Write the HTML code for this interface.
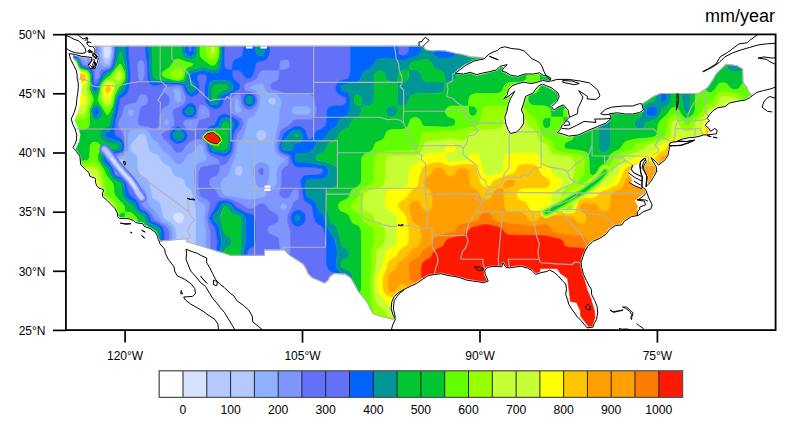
<!DOCTYPE html><html><head><meta charset="utf-8"><style>html,body{margin:0;padding:0;background:#fff;}svg{display:block;}text{font-family:"Liberation Sans",sans-serif;fill:#000;}</style></head><body>
<svg width="810" height="424" viewBox="0 0 810 424">
<defs><clipPath id="us"><path d="M284.5 250l4 4.5 7.5 4.5 7 5 3 4.5 2.5 5.5 3.5 3.5 7 3 5.5 2.5 3.5 -2.5 1.5 -3.5 4.5 -3.5 11 0.5 5.5 3.5 4 6.5 3.5 7 5 6 4.5 6 2.5 5.5 3 5 6.5 2.5 6.5 1.5 6 1.5 2 0.5 -2 -4 0 -0.5 -2 -6 0.5 -7.5 2.5 -5.5 0 -0.5 0.5 0 4.5 -4 0.5 -0.5 5 -2.5 6 -3 6.5 -3 6 -4 5 -4 0.5 0 6.5 -1 0.5 0 6.5 -1 8.5 2 4.5 0.5 6 1.5 0.5 0 5.5 2 7 1.5 4.5 0.5 0.5 0 5.5 1 3 -1 -0.5 -2 -2 -3.5 0 -0.5 -0.5 -3.5 0 -0.5 1.5 -2 0 -0.5 2.5 -2 0.5 0 5 -0.5 4.5 0 0.5 0 3 0 1 -3 0 -0.5 0.5 0 0 -0.5 0.5 0 0.5 0 0.5 0.5 2.5 4.5 3 0 7 -1 4.5 -0.5 0.5 0 6 2 0.5 0 4.5 2.5 0.5 0 3 3.5 4 -1.5 0 -3 17 0 3.5 5 7 5 2 15.5 1 7.5 6 1 4 8.5 0 5 5.5 7 2.5 3.5 3.5 -0.5 1 -2.5 0 -0.5 1 -2 1 -3.5 -0.5 -6.5 -3.5 -12 -3.5 -8.5 -4 -13.5 -1 -2 -2 -7.5 -0.5 -4.5 0 -0.5 1.5 -6 2 -5 3 -5.5 0.5 0 5 -5.5 0.5 0 6.5 -3 6 -4 3.5 -4.5 0 -0.5 0.5 0 5.5 -4 0.5 0 0.5 0 5.5 -1 2.5 -3 7 -5 0.5 0 6.5 -1 -1 -1.5 1 -3.5 0 -3.5 -3 -5 2 -2 5.5 -4.5 4 -1 -1.5 -3.5 -2 -1 -1.5 0 -6.5 -3 -5.5 -3.5 3.5 -1.5 -4 -8 2.5 -3.5 2 -4.5 6.5 -3 0 -1 0 -0.5 0.5 0 0 -0.5 4.5 -3 0.5 0 0.5 0 0.5 0 0 0.5 1.5 3.5 0 0.5 0 0.5 -0.5 0 -2.5 5 1.5 5.5 2.5 4 0 0.5 -0.5 6 1.5 -1.5 3.5 -5.5 2.5 -5 -0.5 -3.5 -3.5 -6 -1.5 -3.5 -0.5 -0.5 0 -0.5 0.5 0 0 -0.5 0.5 0 0 -0.5 0.5 0 0 0.5 0.5 0 5.5 5 2 2 5 -4.5 3 -4.5 1 -5.5 0 -2 0 -0.5 0 -0.5 0.5 0 0 -0.5 0.5 0 0 -0.5 2 -2.5 5.5 -1 0 -0.5 0 -0.5 0 -0.5 0.5 0 0 -0.5 5 -1.5 7 -1.5 0.5 0 5 -0.5 5 -1 3.5 -1 0.5 0 4.5 -0.5 0 -1 1 -1 -1 -2.5 -3.5 -2.5 0 -0.5 -0.5 0 0 -0.5 0 -0.5 0.5 0 1.5 -3 0 -0.5 0.5 0 1 -1 -1.5 -1.5 0 -0.5 0 -0.5 0 -0.5 2.5 -3.5 3.5 -4 0.5 0 0 -0.5 4.5 -3 0.5 0 7 -1 4.5 -3.5 0.5 0 8 -2 7 -1 4.5 -2.5 2.5 -1.5 -3 -3 -2 -5.5 -3.5 -4 -0.5 -13.5 -6 -3.5 -7 -1 -3.5 0 -9.5 9 -3.5 6 -5.5 8 -3.5 2.5 -5 3.5 -38.5 0 -7 3 -6 4 -4.5 3 1.5 6.5 0 0.5 -0.5 0.5 -3.5 2.5 -0.5 0 -7 1.5 -0.5 0 -7 0 -8.5 -1 -6 0.5 1.5 3.5 0 0.5 0 0.5 -0.5 0 0 0.5 -5.5 4.5 -9 4 -7 2.5 -12 5.5 -9.5 1.5 -0.5 0 -5 -2 -6.5 -2 -0.5 0 0 -0.5 -0.5 -0.5 0.5 0 0 -0.5 3.5 -4 0.5 -2.5 0 -0.5 0 -0.5 0.5 0 2.5 -1.5 1 -3 0.5 0 3 -3 -1 -6.5 -4 -4.5 -4.5 2 -4 3 0 0.5 -0.5 0 -0.5 0 0 -0.5 -0.5 0 -2.5 -4 0 -0.5 0 -0.5 0 -0.5 5.5 -4.5 2 -4.5 -1 -3 -5.5 -4 -9 -4 -3.5 1.5 -3 3.5 -2 3 0 0.5 -0.5 0 -7 3.5 -1.5 6 -2.5 6.5 2.5 4.5 0 0.5 0 8 0 0.5 -0.5 0.5 -2.5 4.5 -0.5 0 -4 4.5 -0.5 0 -6 1.5 -0.5 0 -0.5 0 -0.5 -0.5 -2 -3 -0.5 -0.5 -2 -5.5 0 -0.5 -1.5 -7 0 -0.5 2.5 -6 1 -7 2.5 -6 0 -0.5 1 -1.5 -1 1 -5.5 3 -0.5 0 -0.5 0 0 -0.5 -0.5 0 0 -0.5 0 -0.5 0 -0.5 3.5 -4 1 -4.5 0.5 0 0 -0.5 3.5 -4 0.5 0 0 -0.5 6 -2 6 -1.5 0.5 0 8 1.5 7 -2 3.5 -1 0.5 0 6 1 0.5 -2 -3 -1.5 -2.5 0 -0.5 0 -0.5 0 -3.5 -3 -6 1 -0.5 0 -8 0 -7 2.5 -0.5 0 -7 -1 -0.5 0 0 -0.5 -4.5 -2.5 -4 -1.5 -0.5 0 0 -0.5 -0.5 0 0 -0.5 0 -0.5 0.5 0 1.5 -3 0.5 0 0 -0.5 -2.5 0.5 -3 3 0 0.5 -0.5 0 -7.5 2 -5.5 1 -7.5 2 -0.5 0 0 -0.5 -5.5 -2 -7 1.5 -8.5 -0.5 -0.5 0 0 -0.5 -0.5 0 0 -0.5 0 -0.5 0 -0.5 0.5 0 0 -0.5 4.5 -3 6 -5 8.5 -4 0.5 0 8.5 -2 -1.5 -0.5 -10.5 -0.5 -8.5 -2.5 -7 -1 -9.5 -2.5 -7 -0.5 -4.5 0.5 -8.5 -1 -2.5 -4 -4 0 -57.5 0 -118 0 -83 0 -66.5 0 2 2.5 0 0.5 0 4 3.5 4.5 0 0.5 0 0.5 -1 4.5 0 0.5 -2.5 4 -0.5 0.5 -4.5 2 -0.5 0 -0.5 0 0 -0.5 -2.5 -3 0 -0.5 -0.5 0 0 -0.5 0.5 0 0 -0.5 2.5 -4 0.5 -2.5 -3.5 -0.5 -6 -0.5 -6 -2 -2 0 1 2.5 3 6 2.5 5 0 0.5 0 0.5 1 4 0 0.5 0 3.5 1 4 0.5 0.5 0 0.5 0 4.5 0 0.5 -1 6 -0.5 4.5 -0.5 7 -0.5 0.5 0 0.5 -2 7 0 0.5 -2.5 5.5 1 3.5 2.5 4.5 0 0.5 1.5 6 0 0.5 0.5 0 0 0.5 -0.5 6 -0.5 0.5 0 0.5 0 0.5 -1.5 3.5 -2 3 1.5 1.5 0 0.5 3.5 4.5 0 0.5 0.5 5 0.5 3.5 4 4 0.5 0 3.5 3.5 0 0.5 1 3 4.5 1.5 0.5 0.5 0.5 1.5 0 0.5 0 2.5 1 3 2 2 2 0.5 0.5 0 2.5 1.5 0.5 0.5 0 0.5 0 0.5 -1 2.5 0 3 4 3.5 0 0.5 4.5 4 3 3.5 0.5 0 2.5 5 0 0.5 0.5 3 1 1 5 0 4.5 1 4 1 0.5 0.5 2.5 2 3 0.5 3.5 0.5 0.5 0 0 0.5 0.5 0 1 2 1 1 4.5 1.5 3.5 2.5 3 2.5 1.5 3.5 0 0.5 0.5 0 0.5 2.5 0.5 1.5 0.5 0 0 0.5 12 -1 15 -1 -1 2.5 44 14 34 0 0 -5.5z"/></clipPath><clipPath id="fr"><rect x="65.9" y="34.4" width="709.8" height="295.75"/></clipPath></defs>
<g clip-path="url(#fr)">
<g fill-rule="evenodd" stroke-width="0.6"><path fill="#d6e2ff" stroke="#d6e2ff" d="M103.5 46l0.5 9 1.5 3.5 2 0 2 -2 0.5 -2 0.5 -8.5zM175.5 213l-1.5 1 -1 2 0.5 2 0.5 2 2 2 2.5 1.5 2 0 1.5 -1 1.5 -1.5 0.5 -2 0 -3 -0.5 -1.5 -1.5 -1 -1.5 -1 -3 0z"/><path fill="#b5c9ff" stroke="#b5c9ff" d="M101.5 46l0 8.5 1.5 5 1.5 3.5 1.5 0.5 1.5 0 2 -2 2 -5 0.5 -10.5 -1.5 0 0 6.5 -1 4 -1 1.5 -2 1 -2 -2 -0.5 -2 -0.5 -9zM268 99.5l0 3 2.5 2.5 1.5 0 2 -0.5 2 -2 0 -3 -2 -1.5 -2 -0.5 -2 0.5 -1.5 1zM256.5 133l-0.5 1.5 0.5 2 1 2 1.5 1.5 2 0.5 2 -0.5 1.5 -1 1.5 -1.5 0.5 -2 0 -1.5 -1 -2 -2 -1.5 -1.5 -0.5 -2 0 -2 1zM118 161l0.5 7 1 1.5 1.5 1.5 2 -0.5 1 -1 1 -1.5 0 -5 -0.5 -2.5 -2 -1.5 -1.5 -0.5 -2 1zM235.5 168l-0.5 3.5 0.5 3 1 1 1.5 0.5 3 -1 1.5 -1.5 0.5 -2 -0.5 -2.5 -0.5 -2 -1 -1 -2 -0.5 -2 0.5zM138 135.5l-2 3 -5 4 -0.5 2.5 -0.5 3 1 4 4 2.5 2 3 0.5 12 1 3 2 3 6 3 1.5 1.5 2.5 8.5 1.5 8.5 2 2.5 4.5 2.5 1.5 2 4.5 14.5 1 1.5 5.5 3 3 3.5 1.5 4 0.5 9 11.5 -0.5 -1 2.5 9.5 3 0 -36 -0.5 -3 -2.5 -6.5 -1 -7.5 -1.5 -2 -4.5 -3.5 -2 -6 -1.5 -1.5 -8 -3 -1 -2 -2.5 -5.5 -2 -2 -4.5 -2.5 -2 -1.5 -4 -6.5 -1.5 -1.5 -5 -1.5 -2 -1.5 -1 -3 -3 -11.5 -1 -2 -1.5 -0.5 -2 -0.5 -2 0.5zM180.5 212.5l1.5 1 1.5 1 0.5 1.5 0 3 -0.5 2 -1 1.5 -3 1 -2 -0.5 -2.5 -2 -1.5 -2 -0.5 -3 1 -2 1.5 -1 2 -0.5z"/><path fill="#8eb2ff" stroke="#8eb2ff" d="M82 57.5l2 3.5 1 1 1 0.5 0.5 -0.5 1 -4zM99.5 46l0.5 10 2 8.5 2 2 2.5 0.5 2 -0.5 2 -2 2 -6.5 0.5 -4.5 0 -7.5 -1 0 -0.5 8.5 -1 5 -2 3.5 -2 1 -2 -1 -2 -5 -1 -4.5 0 -7.5zM173.5 90l0 2 2 8.5 0.5 1 1.5 1 2 -0.5 1.5 -1.5 0.5 -1.5 0 -3 -1.5 -6 -1.5 -1.5 -2 0 -2 0.5zM128.5 111l0 3 1 1.5 1.5 0.5 2 -1 1 -1 0 -2 -1 -2.5 -1 -0.5 -1.5 0zM164 123.5l1.5 2 1.5 0 1 -0.5 1 -2.5 -1 -3 -1 -0.5 -1.5 0.5 -1 1.5zM128.5 132l-1 3.5 0 13.5 -1 3.5 -3 2.5 -6.5 1.5 -1.5 1 -1 2 0 2.5 2.5 10 1 1 2 1 7.5 1.5 5.5 2 3 2.5 3.5 6 5 3.5 1.5 3 1 7.5 2 5.5 3 3.5 5 4.5 3 5.5 1.5 2 3 2 4.5 2 1.5 1.5 1.5 4 0.5 9.5 3.5 -0.5 -0.5 -9 -1.5 -4 -3 -3.5 -6.5 -4 -1 -2 -3.5 -13 -1.5 -2 -4.5 -2.5 -2 -2 -1.5 -9 -2.5 -8.5 -1.5 -1.5 -5.5 -3 -2 -2.5 -1.5 -3.5 -0.5 -12 -1 -2 -4 -3 -1.5 -1.5 -0.5 -5 1.5 -3.5 4.5 -4 3 -4 2.5 -1 3 0.5 1.5 2.5 3 11.5 1 3 2 1.5 5 1.5 1.5 1.5 4 6.5 2 1.5 4.5 2.5 2 2 2.5 5.5 1 2 8 3 1.5 1.5 2 6 5.5 4.5 4.5 18 0 36 10 3 0 -16 -1.5 -12.5 1 -12.5 -1.5 -2.5 -4.5 -2.5 -2.5 -3.5 -3 -14 -0.5 -4 0.5 -9.5 1 -4.5 2.5 -2.5 7.5 -2.5 1.5 -1.5 0 -2 -2 -5 -1.5 -6.5 -2 -1.5 -1.5 0 -1.5 0.5 -4.5 6.5 -6.5 4 -1.5 2 -1.5 3.5 -1.5 2 -2 1 -3 0 -2 -1 -1.5 -2 -4 -5.5 -6.5 -4.5 -4 -7 -2 -1.5 -4.5 -3.5 -3.5 -6 -2 -2 -5 -1.5 -9.5 0 -2.5 0.5zM123.5 159.5l1 1 0.5 1.5 -0.5 7 -1.5 1.5 -2 0.5 -1 -0.5 -1 -2 -1 -7.5 1 -1.5 1 -0.5 1.5 -0.5zM234.5 102.5l0 5.5 1 3 2 2 1.5 0 2 0 0.5 -1 0 -2 -2 -4.5 -1.5 -6 -1 -0.5 -1.5 0.5zM292.5 108l-1 2 0 2 1.5 1.5 2 1 4.5 0.5 7.5 -0.5 2.5 -0.5 1.5 -2 0 -2 -0.5 -2 -1.5 -1 -2 -1 -10 0 -3 1zM203.5 113l0.5 -1 0 -1 -1 -0.5 -1 0.5 0 1 0 0.5zM191 125.5l1 -1 0 -0.5 -0.5 -0.5 -1.5 -0.5 -1 1.5 1 0.5zM260 83l-9.5 3.5 -1 1 1 1 5.5 2 2.5 2.5 1 3 0.5 3 -1 6.5 -4.5 9.5 -2 1.5 -4 1.5 -1 1 -1.5 9 -3 8.5 -1 2 -4 4 -1 2 -1 8 -2 7 -3.5 8.5 -2 6.5 -1.5 2 -5 2.5 -1 2 -0.5 2 1.5 9.5 1 1.5 1 1 24.5 5 3 0 12 -2.5 2 -1.5 1.5 -2.5 0 -5 -0.5 -0.5 -4.5 0 -3 -1 -2 -1 -1 -2 -2 -7.5 -0.5 -4 0.5 -4.5 1 -3 3 -2 4 -0.5 3 0.5 2.5 2 1.5 3 0.5 3.5 -0.5 4 -1.5 6.5 -0.5 5.5 0.5 0.5 4 0 3 -1 2 -3 0.5 -4 0 -10.5 1 -3.5 2 -2 3.5 -2 1.5 -1.5 0 -1 -1 -1 -4 -2 -2.5 -2 -2 -2.5 -0.5 -4 0 -5 1.5 -11 2.5 -9.5 0.5 -10.5 2 -9.5 -0.5 -3.5 -1 -2 -2 -2 -3 -1 -5.5 -1 -2.5 -1 -1.5 -2 -1.5 -4.5 -1.5 -2zM274 98l2 1.5 0 2 -0.5 2 -1.5 1 -2 0.5 -2.5 -1 -1.5 -2.5 0.5 -2.5 3 -1.5zM241.5 167l1 2 0.5 1.5 -1 3.5 -1.5 1.5 -1.5 0.5 -2.5 -0.5 -1 -1.5 -0.5 -1.5 0 -3 0.5 -1.5 1 -1 1.5 -1.5 2 0.5zM263.5 130.5l2 1.5 1 2 0 1.5 -0.5 2 -1.5 1.5 -1.5 1 -2 0.5 -2 -0.5 -1.5 -1.5 -1 -2 -0.5 -2 0.5 -1.5 1.5 -2 2 -1 2 0zM280.5 206.5l1.5 3 2.5 1 2 -1.5 1 -2.5 -0.5 -1.5 -2.5 -1.5 -3 0.5 -1 1.5z"/><path fill="#7f96ff" stroke="#7f96ff" d="M87.5 58l-1 4 -0.5 0.5 -1 -0.5 -3 -4.5 -4 -1 2 2.5 2 4.5 1 1 2 1 2 0.5 3 -5 0.5 -2.5zM96.5 46l0 7.5 3 4.5 -1 5.5 -1.5 3 -2 2 -0.5 2.5 0 7 0.5 2 1 0.5 1 -0.5 1.5 -2 1.5 -5.5 0.5 -2 2.5 -1 5.5 -1 1.5 -1 1.5 -1.5 1 -2.5 1 -6.5 0.5 -7.5 0.5 -3.5 -1.5 0 0 9 -2.5 9.5 -2 2 -4 0.5 -2 -1.5 -1.5 -2.5 -1.5 -8 0 -9zM280.5 62l-1 3.5 0 4 0.5 0.5 6.5 -0.5 2 -1 1 -2 0.5 -2 0 -1.5 -1 -2 -1.5 -1.5 -2 -0.5 -2 0.5 -2 0.5zM138 63.5l-0.5 5 0 8.5 1.5 3 2.5 1 2 -1 1 -3 -0.5 -13.5 -0.5 -2 -2 -1.5 -1 0 -1.5 1zM199.5 105.5l-1.5 3.5 -0.5 7.5 -1 2 -10 1 -2 1 -1 1 -0.5 2 1.5 2.5 2.5 3 3 2 2.5 0 3 -1 2 -3 1.5 -6.5 1.5 -0.5 4.5 -1 2 -0.5 1.5 -2 1 -1.5 0.5 -2 -1 -3 -4 -4.5 -2 -1 -2 0zM204 112l-0.5 1 -0.5 0 -1 -0.5 0 -1.5 1 -0.5 1 0.5zM192 124.5l-1 1 -1 -0.5 -1 -0.5 0.5 -1 1.5 -0.5zM260 71.5l-1 1.5 -2 5 -1.5 2 -2 1.5 -8 2 -1 1 -0.5 2 0 3 1 1 1 0.5 7.5 1.5 2 1.5 1 2 0.5 3 0 3.5 -1 3 -2 2 -1.5 1 -3 1 -3 -0.5 -1.5 -1.5 -2 -2 -1 -2 -1 -7.5 -1 -1.5 -1 -0.5 -2 0 -2.5 1 -2.5 2 -1.5 2.5 -1 3 0 5 0.5 2.5 0.5 2 1.5 2 2.5 1.5 5.5 2.5 2 1 1 3.5 -0.5 3.5 -1 3 -4 4 -1 1.5 -2 8 -1.5 9.5 -4.5 9 -2.5 3 -6.5 1 0 4.5 -1 3 -2 3 -5 2 -1.5 1.5 -1 2 0 3 1.5 2.5 5 3.5 3 6 1.5 1.5 8.5 1.5 4 1 8.5 4 5.5 4 3 1 4 -0.5 4 -3.5 1.5 -1 3 -0.5 1.5 0 2 1.5 4 5.5 5.5 2.5 2 1 1.5 3 0.5 2 -0.5 2 -2.5 2 -6.5 2.5 -2 3 0 3 2 2.5 6.5 2.5 2 1.5 1 3.5 0.5 8.5 5 0 4 4.5 1.5 1 0.5 -4.5 0 -19 -0.5 -2.5 -2.5 -7.5 0 -5 1 -3 3.5 -6.5 2 -5.5 4 -2.5 0.5 -1.5 0.5 -2 0 -2.5 -1 -3.5 -1 -0.5 -2 -0.5 -2.5 1.5 -2.5 5.5 -1.5 1.5 -3 0.5 -3 -0.5 -2 -1.5 -0.5 -0.5 0 -3 1.5 -7.5 0.5 -14.5 1.5 -2.5 3.5 -2 1.5 -1.5 0.5 -4 0 -2 -1 -2 -2 -1 -4.5 -1.5 -2.5 -2 -1 -2 -0.5 -3 0.5 -5.5 2 -8.5 0.5 -2 2 -2.5 6 -3 3 -4 2.5 -1.5 4 -0.5 11 0 4 -1 2 -2 1 -2.5 0.5 -3 -0.5 -3.5 -2 -9.5 -1 -2 -2 -1.5 -4.5 -1 -20 0 -8.5 -3 -5 -0.5 -1.5 -1 -1.5 -2.5 1 -3 6 -2.5 1.5 -2 0.5 -4 0.5 -4.5 -0.5 -0.5 -15.5 0 -1.5 0.5zM296 106l10.5 0 2.5 1 2 2.5 0 1.5 -0.5 2 -2.5 1.5 -6.5 0.5 -6.5 -0.5 -3 -1.5 -0.5 -3 1.5 -2.5zM285.5 204l1.5 1.5 -0.5 3 -2 2 -2 -0.5 -2 -2.5 0 -2 2 -2zM238.5 100.5l1 5 2.5 5.5 -0.5 1 -1.5 1 -2 0 -1.5 -0.5 -1.5 -1.5 -0.5 -2 0 -4.5 0.5 -4 1.5 -1.5 0.5 0zM262.5 83.5l1.5 2 1.5 4.5 1.5 2 2.5 1 5.5 1 3 1 2 2 1 2 0.5 3.5 -2 9.5 -0.5 10.5 -2.5 9.5 -1.5 11 0 5 0.5 4 2 2.5 2.5 2 4 2 1 1 0 1 -1.5 1.5 -3.5 2 -2 3 -1 3.5 0 9.5 -0.5 4 -1.5 2.5 -3 1.5 -3.5 0 -1.5 -0.5 0.5 -5.5 1.5 -6.5 0.5 -4 -0.5 -3.5 -1.5 -3 -3 -2 -3.5 -0.5 -4 1 -2.5 2.5 -1 3 0 4.5 3 11.5 1.5 1.5 2 1 6.5 0.5 0.5 0.5 -0.5 6 -1 1.5 -1 1 -1.5 0.5 -13.5 2.5 -24.5 -4.5 -2 -1 -1 -2 -1.5 -8.5 0.5 -3 2 -2.5 4 -2 1.5 -2 2 -6.5 3.5 -8.5 2 -7 1 -8 1 -2 4 -4 1 -2 3 -8.5 1.5 -9 1 -1 4 -1.5 2 -1.5 4 -7.5 1 -3 0.5 -6.5 -0.5 -3 -1 -2 -2.5 -2.5 -5.5 -2 -1 -1 1 -1 8.5 -3 2 -0.5zM263 169l1 1.5 -0.5 2.5 -0.5 1.5 -2 0.5 -1 -0.5 -1 -1.5 0 -3 0.5 -1 1.5 -1zM172 86l-7 1.5 -2 1 -0.5 1 0 0.5 1 2 3.5 2.5 2 2.5 0.5 2.5 0 3 -0.5 1.5 -1 1 -4.5 2.5 -1.5 1.5 -3 9.5 -0.5 7.5 -1 1.5 -0.5 1 -3 0.5 -6.5 -2.5 -6 -1 -2 -0.5 -1 -1.5 -0.5 -3 2.5 -13 1.5 -1 4.5 -2 1.5 -3 0 -3.5 -1.5 -3 -3 -1 -3 0.5 -2 2.5 -1.5 4 -1 1.5 -2 0.5 -6.5 1.5 -3 2 -1 2.5 -1.5 6 -3.5 5.5 -0.5 4 1 3 3 4.5 3 8.5 0.5 4.5 0 4 -1 2 -1.5 1.5 -7 2 -3 2 -1.5 2 0 2 4 13 2.5 2 6.5 1.5 2.5 2 3.5 7 4.5 4.5 2 2.5 3 7 1.5 5 1 1.5 6.5 5 2.5 2.5 2.5 5 5.5 3.5 8 6 1 2 0.5 1.5 0 8.5 3.5 -0.5 -0.5 -8.5 -1 -4 -2 -2.5 -4.5 -2 -3 -2 -1.5 -2 -3 -5.5 -7 -7 -2.5 -4.5 -1.5 -9.5 -1.5 -3 -5 -3.5 -3.5 -6 -3 -2.5 -5.5 -2 -7.5 -1.5 -2.5 -1.5 -1.5 -3 -1.5 -8.5 0 -1.5 1 -2 1.5 -1 6.5 -1.5 3 -2.5 1 -3.5 0.5 -15 1.5 -3 2.5 -1.5 11.5 0 3 1 1.5 1 2 2.5 3 5 5.5 4 5 8 6.5 4.5 4 5.5 1.5 2 2 1 3 0 2 -1 1.5 -2 1.5 -3.5 1.5 -2 6.5 -4 4.5 -6.5 2.5 -1 1.5 1 1 1 1.5 6.5 2 5 0 2 -1.5 1.5 -7.5 2.5 -2.5 2.5 -1 4.5 0 11.5 2.5 14 1 3 2 2.5 4.5 2.5 1 1.5 0.5 3 -1 10.5 1.5 12.5 0 16 4.5 1.5 0 -17.5 -2.5 -9 -0.5 -4.5 0.5 -4.5 2 -7 0 -2.5 -0.5 -2 -1.5 -2 -6.5 -3 -1.5 -1.5 -1.5 -11.5 0 -11.5 0.5 -3 1.5 -1.5 12 -3 6.5 -0.5 0 -3.5 -1 -1.5 -1 -1 -5.5 -2.5 -2.5 -2 -2 -3 -1.5 -8 -1.5 -2 -2 -1.5 -1.5 -0.5 -3 0 -6.5 2 -4 3 -4.5 7 -2 1 -2 0.5 -2 -0.5 -2 -1 -4.5 -7 -5.5 -4.5 -2 -2 -0.5 -3 0.5 -1.5 4.5 -2 3 -2 2.5 -3 1.5 -2.5 0.5 -4 -1.5 -6.5 0.5 -3 1 -1 4 -1.5 3 -1.5 3.5 -3.5 1 -3 0 -1.5 -3.5 -9.5 -1 -2 -2 -0.5 -2 -0.5zM179.5 89.5l1 2.5 1 7 0 1 -1 1.5 -2 1 -1 0 -1.5 -1 -1 -2 -1.5 -9.5 1 -0.5 1.5 -1 1.5 0zM133.5 110l0.5 2 -0.5 3 -2.5 1 -1.5 -0.5 -1.5 -2.5 0.5 -2 0.5 -1 2 -1zM168 119.5l1 2 -0.5 3 -1.5 1 -1.5 0 -1.5 -2 0.5 -3 1.5 -1.5z"/><path fill="#6370f8" stroke="#6370f8" d="M188.5 46l0 4.5 1.5 1.5 1 -0.5 0.5 -1 0 -4.5zM397.5 46l0.5 6 2 2.5 2 1 2 0 1.5 -0.5 2 -1.5 1.5 -3 0 -4.5zM224.5 46l-0.5 17 0.5 3.5 1 2 1.5 1 4.5 0.5 0.5 -0.5 0.5 -6 1 -2.5 2 -1.5 5.5 -2.5 1.5 -2 0.5 -2.5 0.5 -6.5zM87 66l-2 -0.5 -2 -1 -3 -5.5 -2 -2.5 -5 -1 0.5 0.5 3 1 1.5 1.5 1.5 2.5 1.5 3.5 1 1.5 2 1 4.5 0.5zM91.5 69.5l2 12 1 3 0.5 1 1 -0.5 4 -5 3 -7.5 1.5 -1 5.5 -2 2.5 -3 1 -3 1.5 -7.5 0.5 -10 -1 0 -0.5 9 -2.5 10.5 -1 2 -2 1 -5.5 1 -2.5 1 -0.5 2 -1 4.5 -2 3 -1 0.5 -1 -0.5 -0.5 -3 0 -6 1 -3zM96.5 53.5l0 -7.5 -2.5 0 2 2.5 0 4.5zM258.5 171.5l1.5 3 2 0.5 1 -0.5 0.5 -1.5 0 -3.5 -0.5 -1 -2 -0.5 -2 1.5zM128.5 46l0 9 1.5 19 -0.5 7.5 -1.5 8.5 -1 3 -2.5 2.5 -3.5 2 -1.5 2 -2 13.5 -2.5 8.5 -0.5 10.5 0 2 1 1.5 5.5 3.5 1.5 2 1.5 3 0 4 -1 2 -1.5 1.5 -7.5 2 -4.5 2 -2.5 2 0 2 4.5 5.5 1 2 1 5.5 1.5 3 2 1 5.5 2 2.5 1.5 0.5 2 2 7.5 2 5.5 6.5 5 1.5 2 2.5 6.5 1.5 1.5 4 1.5 2 2 1.5 1.5 1.5 5 1.5 1.5 7 3 2.5 2 1.5 2 1 3.5 0 8.5 5 0 0 -8.5 -1 -3 -2.5 -2.5 -11.5 -7.5 -2.5 -5 -2.5 -2.5 -6.5 -5 -1 -1.5 -1.5 -5 -3 -7 -2 -2.5 -4.5 -4.5 -3.5 -7 -2.5 -2 -6.5 -1.5 -2.5 -2 -0.5 -2 -1.5 -5.5 -1.5 -5 -0.5 -2.5 1.5 -2 3 -2 7 -2 1.5 -1.5 1 -2 0 -4 -0.5 -4.5 -3 -8.5 -3.5 -5 -0.5 -3.5 1 -3.5 3 -5 1.5 -7 2 -2.5 3 -1.5 7 -1.5 1.5 -1.5 2 -5 1.5 -1.5 3 -0.5 3 1 1.5 3 0 3.5 -1.5 3 -4.5 2 -1.5 1 -2.5 13 0.5 3 1 1.5 2 0.5 6 1 6.5 2.5 3 -0.5 0.5 -1 1 -1.5 0.5 -7.5 3 -9.5 1.5 -1.5 4.5 -2.5 1 -1 0.5 -1.5 0 -3 -0.5 -2.5 -2 -2.5 -3.5 -2.5 -1 -2 0 -0.5 0.5 -1 2 -1 8 -1.5 5.5 -0.5 3 1 1 2 3.5 9.5 0 2.5 -2 3 -2.5 2.5 -3 1.5 -4 1.5 -1 1 -0.5 3 1.5 7.5 -0.5 4 -2 2.5 -3 3 -6 3 -1 1 0 1.5 1.5 3 6.5 5.5 4.5 7 2 1 2 0.5 2 -0.5 2 -1 4.5 -7 4 -3 6.5 -2 3 0 1.5 0.5 2 1.5 1.5 2 1.5 8 2 3 2.5 2 5.5 2.5 2 2 0.5 2.5 -0.5 1.5 -6.5 0.5 -11.5 2.5 -1.5 2 -1 3 0 11.5 1.5 11.5 1.5 1.5 6.5 3 1.5 2 0.5 2 0 2.5 -2 7 -0.5 4.5 0.5 4.5 2.5 9 0 17.5 6 2 1 -9.5 -1.5 -12 -1 -2 -3.5 -4 -1.5 -2.5 -0.5 -4 1 -3 1 -2 4 -4.5 1.5 -3.5 1.5 -1.5 2.5 -1.5 6 -0.5 4 1.5 2.5 2 3.5 4 10.5 5.5 5.5 1.5 2 2 0.5 5 0 20.5 -1 2 -1 2 -4 2 -1.5 1.5 -0.5 2 -0.5 3.5 17.5 0 0 -5.5 15 0 -0.5 -8.5 -1 -3.5 -2 -1.5 -6.5 -2.5 -1.5 -2 -0.5 -1.5 0.5 -3 1.5 -2 6.5 -2.5 2 -1.5 0.5 -1.5 0 -2 -1 -3 -2.5 -2 -5.5 -2.5 -4 -5.5 -2 -1.5 -1.5 0 -3 0.5 -1.5 1 -4 3.5 -4 0.5 -3 -1 -5.5 -4 -8.5 -4 -4 -1 -8.5 -1.5 -1.5 -1.5 -3 -6 -5 -3.5 -1.5 -2.5 0 -3 1 -2 1.5 -1.5 5 -2 2 -3 1 -3 0 -4.5 6.5 -1 2.5 -3 4.5 -9 1.5 -9.5 2 -8 1 -1.5 4 -4 1 -3 0.5 -3.5 -1 -3.5 -2 -1 -5.5 -2.5 -2.5 -1.5 -1.5 -2 -0.5 -2 -0.5 -2.5 0 -5 1 -3 1.5 -2.5 2.5 -2 2.5 -1 2 0 1 0.5 1 1.5 1 7.5 1 2 2 2 1.5 1.5 3 0.5 3 -1 1.5 -1 2 -2 1 -3 0 -3.5 -0.5 -3 -1 -2 -2 -1.5 -7.5 -1.5 -1 -0.5 -1 -2 0 -3 1.5 -2 1 -0.5 6 -1.5 2.5 -1.5 2 -2 2 -5 1 -1.5 2 -1 2.5 -0.5 13.5 0 1.5 0.5 -0.5 5.5 -1 3.5 -2 2 -4 1.5 -1.5 1.5 0 3 1.5 2 7 1.5 6.5 2 22.5 0.5 3 1 2 1.5 1 3 2.5 10 -0.5 5 -1 2.5 -2 2 -3 1 -13 0 -4 1 -4.5 5 -6.5 3.5 -1.5 2 -0.5 2 -2.5 11 0.5 6 1 2 1.5 1.5 7.5 3 1 2 0 2 -0.5 4 -1.5 1.5 -3.5 2 -1.5 2.5 -0.5 13.5 -1.5 8.5 0 2 0.5 1.5 2 1.5 3 0.5 3 -0.5 1.5 -1.5 2.5 -5.5 2.5 -1.5 2 0.5 1 0.5 1 3.5 0 2.5 -0.5 2 -0.5 1.5 -4 2.5 -2 5.5 -3.5 6.5 -1 3 0 5 2.5 7.5 0.5 2.5 0 19 -0.5 4.5 13 8.5 3 4.5 2.5 5.5 3.5 3.5 12.5 5.5 3.5 -2.5 1.5 -3.5 4.5 -3.5 0.5 0 -5.5 -3.5 -1.5 -2 -0.5 -1.5 -0.5 -25 -2.5 -12 -1 -2 -1.5 -2 -4.5 -3 -2 -1.5 -4 -16 -1 -1 -4.5 -2.5 -1.5 -1.5 -0.5 -3 -1 -6.5 -1.5 -7.5 0 -3 1 -1.5 2.5 -3 3.5 -1 12.5 -0.5 2 -1.5 0.5 -2 -1.5 -1.5 -2 -1 -10.5 -1 -11 0 -3.5 -1 -1.5 -1.5 -0.5 -1.5 -1 -5.5 -1 -2 -2 -1.5 -5 -1.5 -2 -1 -1.5 -2.5 -0.5 -4 1 -5 2 -5 1.5 -2 8 -5 4 -1.5 3.5 0 4 2 2 3.5 2 6.5 1.5 1 2 -0.5 2 -2 2 -4 1.5 -2 6.5 -3 2.5 -2.5 1 -4 0.5 -9.5 1 -4 2 -1 2 -1 10 -0.5 3 -1 1.5 -3 -0.5 -3 -1 -1.5 -5.5 -2.5 -2 -1.5 -1.5 -3 0 -3.5 1 -3 1.5 -2 3 -1 5.5 -1.5 1.5 -1 1 -2 1 -4.5 0 -25.5 -81 0 -0.5 7.5 -1 3.5 -2.5 2.5 -6.5 2 -2 1.5 -2 3 -2 9 -1.5 2.5 -3 1 -3 -0.5 -1.5 -1 -2 -4.5 -2 -1.5 -3.5 -1 -4 0 -0.5 0.5 0 3.5 1 3 1.5 2 4.5 4.5 0.5 2 0 3 -2 1.5 -12.5 8 -1.5 1.5 -1 4 -1.5 3 -2.5 1.5 -3 1 -3 -1 -2.5 -1.5 -3.5 -4 -1 -3 -0.5 -12 0.5 -4 1.5 -5.5 0 -2 -1 -1 -2 -1 -3 0 -1.5 0.5 -2 1.5 -0.5 2 2 7.5 0 4.5 -1 3 -1.5 1.5 -4 2 -2.5 -0.5 -3 -2 -1.5 -3 -1.5 -4.5 -1 -1 -1.5 -1 -4 -0.5 -6.5 0 -7.5 0.5 -7.5 1 -4 -0.5 -3 -2 -1 -3 -0.5 -17 -2 -9.5 0 -7.5zM143 61l1 2 0.5 2.5 0 10.5 -1 4 -2 1 -2.5 -1 -1 -2.5 -0.5 -12 0.5 -2.5 1 -2 1.5 -1 1 0zM193 103.5l1.5 1.5 1 3 0 5 -1 2.5 -2 1 -2.5 0.5 -4 -0.5 -2.5 -0.5 -1 -2 -0.5 -2 1.5 -4 4.5 -4 3 -1zM204 105l3 2.5 2 2.5 1 3 -0.5 3 -1.5 1.5 -2 1 -5.5 1.5 -1.5 0.5 -1.5 6.5 -2 3 -3 1 -1.5 0 -2 -0.5 -3 -2.5 -2 -2.5 -1 -2 0.5 -2 1 -1 2 -1 10 -1 1 -2 0.5 -7.5 1 -2.5 0.5 -1 1.5 -1zM226 114l2.5 1 9 5.5 1.5 2 0 2 -0.5 1.5 -3.5 4 -1.5 3 -2 16 -0.5 3 -1.5 1.5 -2 2 -1.5 0.5 -2 0 -10.5 -2 -2 -1 -1.5 -1 -1 -3 -1.5 -6 -2.5 -6.5 -0.5 -2.5 1 -3 1.5 -3 3 -1.5 3.5 -1.5 2 -1.5 2 -5 1.5 -2.5 3 -1.5zM286.5 59.5l2 0.5 1 2 0.5 2.5 -0.5 2.5 -1.5 1.5 -1.5 1 -6.5 0.5 -0.5 -0.5 0 -5 1 -3.5 1.5 -1 1.5 -0.5zM180.5 127l3 2 2.5 3 1 2.5 0 2 -1 3 -2.5 2.5 -3 1.5 -3 0 -3 -1 -2.5 -2 -2 -3 0 -3 1 -2.5 3.5 -3.5 3 -1.5zM250.5 94l2 0.5 1.5 1.5 1 3 0 2.5 -1 2.5 -1 1.5 -2.5 1 -2 0 -2.5 -1 -1.5 -2 -1 -3 0 -2.5 0.5 -2 1.5 -1.5 2 -0.5zM299.5 210l3 1.5 1.5 2 1 2.5 0 4 -1 2.5 -1.5 2 -3 1.5 -2.5 0 -3 -1 -2 -2 -1 -3 0 -3 1 -3 2 -2.5 3 -1.5z"/><path fill="#0063ff" stroke="#0063ff" d="M184.5 46l0.5 6.5 1.5 2.5 2.5 1.5 2 0.5 1.5 -1 1 -1 1 -1.5 0.5 -7.5 -3.5 0 0 4.5 -0.5 1 -1 0.5 -1.5 -1.5 0 -4.5zM115.5 46l-0.5 10 -1.5 7.5 -1 3 -2.5 3 -5.5 2 -1.5 1 -4 9 -2 2.5 -1 1 -1 0.5 -0.5 -1 -1 -3 -1 -9 -1 -3 -1.5 0 -1.5 -2 -4.5 -0.5 -2 -1 -1 -1.5 -1.5 -3.5 -1.5 -2.5 -1.5 -1.5 -3 -1 0 1.5 3 1 1.5 1.5 3 6.5 2 1 5.5 2 2 1.5 1 3 1 13.5 1 2 1 1.5 0.5 0.5 1 -0.5 1 -1 2.5 -6.5 4.5 -9.5 1.5 -1 6 -3 2.5 -3.5 3 -13 0 -7.5zM145.5 46l0 7.5 2 9.5 0.5 16 0.5 2.5 1.5 2.5 2 1 3 0.5 11 -1.5 10.5 0 5 0.5 1.5 1 1 1 1.5 4.5 1.5 3 3 2 2.5 0.5 4 -2 1.5 -1.5 1 -3 0 -4.5 -2 -7.5 0.5 -2 1 -1 2 -1 1.5 0 2.5 0 1.5 1 1 2 -2 10.5 0 9.5 0.5 3.5 1.5 3 3 3 2.5 1.5 3 1 3 -1 2.5 -1.5 1.5 -3 1 -4 1.5 -1.5 12.5 -8 2 -1.5 0 -3 -0.5 -2 -5 -4.5 -1.5 -3 -0.5 -3.5 0.5 -2.5 4.5 0 3 1 2 1.5 2 4 1 1 2.5 1 3 -0.5 2 -2 3.5 -12.5 2 -1.5 5.5 -1.5 3 -1.5 2 -3 1 -4.5 0 -5.5 -5 0 0 5.5 -1 2 -1.5 2 -3 0 -2 -1 -1 -2 -0.5 -6.5 -12 0 -0.5 6.5 -1 3.5 -2 1.5 -4.5 2 -2 1.5 -1 2.5 -0.5 6 -0.5 0.5 -3 -0.5 -2.5 -0.5 -1.5 -2.5 -0.5 -3.5 0.5 -17 -2.5 0 -0.5 11 -1 10.5 -1.5 3 -1.5 2 -3 0.5 -3 -0.5 -6.5 -2 -4.5 0 -6.5 2 -3 1.5 -1.5 2 0.5 2 1 2 3.5 3.5 1 4 0 2 -1 1.5 -2 1.5 -1.5 0 -2 -0.5 -1 -1 -2.5 -6.5 -1.5 -1 -3.5 -0.5 -24.5 -1 -4 -1 -1.5 -2 -0.5 -3 -0.5 -13 -0.5 -9.5 -0.5 -7.5zM216.5 80l10.5 0.5 3.5 2 2.5 3 0 3 -1 1.5 -2.5 2 -6.5 2.5 -2 1.5 -2.5 6.5 -1 1.5 -2 1 -3 0 -2.5 -2.5 -1.5 -3 0 -10 0.5 -5 1.5 -2.5 3 -1.5zM188 104l-4.5 4 -1 2 -0.5 3 1 2 2 1.5 3 0.5 4 0 2 -1 1.5 -2 0.5 -3 -0.5 -3.5 -1 -2.5 -2 -1.5 -1.5 -0.5zM192.5 108l1 3 -0.5 2 -0.5 1 -1.5 0.5 -2 0 -2 -0.5 -1 -1 -0.5 -1 0.5 -2 2 -2.5 3 -0.5zM93 112l1 3 1 1 1 0 2 -0.5 1.5 -2.5 0 -2 -1 -2 -0.5 -1 -2 -0.5 -2 0.5 -1 2zM174 129l-3 3 -1 2.5 0 2 1 3 3 2.5 2.5 1.5 3 0 4 -1.5 2.5 -2.5 1 -3 0 -2 -1 -2.5 -3.5 -3.5 -3 -1.5 -3 0zM179.5 130l3 2 1 2 0.5 1.5 -0.5 2 -2 2 -2 1 -2 0 -2 -1 -1 -1 -1 -2 -0.5 -2 1 -1.5 1.5 -2 2 -1zM125 46l0.5 9 2 19 -0.5 7.5 -3 8.5 -1 2 -4 3 -2 3 -5.5 30 -2 3 -3.5 2 -1 1.5 0.5 2 2 1.5 12.5 4 1.5 2 0.5 3 -0.5 2 -1.5 1 -14.5 4 -2 2.5 -0.5 3 1.5 3 5.5 4.5 2 6.5 2 3 2 1.5 5.5 2 1.5 2 1 3 1 9.5 1.5 3 2 2 5.5 2.5 1.5 2 1.5 4.5 1.5 2 2 1.5 4 2 1.5 1 2.5 7 1.5 1.5 2 1 5 1.5 2 1.5 1.5 2 0.5 2 0 9.5 3 -0.5 0 -8.5 -1 -3.5 -1.5 -2 -2.5 -2 -7 -3 -1.5 -1.5 -1.5 -5 -1.5 -1.5 -2 -2 -4 -1.5 -1.5 -1.5 -2.5 -6.5 -1.5 -2 -6.5 -5 -2 -5.5 -2 -7.5 -0.5 -2 -2.5 -1.5 -5.5 -2 -2 -1 -1.5 -3 -1 -5.5 -1 -2 -4.5 -5.5 0 -2 2.5 -2 4.5 -2 7.5 -2 1.5 -1.5 1 -2 0 -4 -1.5 -3 -1.5 -2 -5.5 -3.5 -1 -2.5 0.5 -11.5 2.5 -8.5 2 -13.5 1.5 -2 3.5 -2 2.5 -2.5 1 -3 2 -9 0 -7 -1.5 -19 0 -9zM217.5 203l-2 4.5 -4.5 6 -1.5 4.5 1.5 4.5 4 5 1 3 1.5 11 -1 9.5 3.5 1 1.5 -8.5 0 -3 -2.5 -14 -1.5 -2.5 -4 -4 -0.5 -3 1 -2 4.5 -4.5 2.5 -6 3 -1.5 3 0 1.5 0.5 2 1 4 6 7 3 2 1.5 1.5 2 0.5 5 0 18 0 3.5 -1.5 6.5 -0.5 5.5 3.5 0 0.5 -3.5 0.5 -2 1.5 -1.5 4 -2 1 -2 1 -2 0 -20.5 -0.5 -5 -2 -2 -5.5 -1.5 -10.5 -5.5 -4.5 -5 -3 -1.5 -3.5 -1 -4 0.5 -3 0.5zM433 51l0.5 3.5 1.5 1.5 3 2 2.5 0.5 7.5 0 4 -0.5 2.5 -2 1.5 -2.5 -10.5 -2.5 -7 -0.5zM732 65l2 1.5 2 0 1.5 -0.5zM660.5 93.5l0 5.5 0.5 2.5 1 1 2 0 1 -1 1.5 -2 0.5 -6zM244 97l-0.5 2.5 0.5 3 1 2 1.5 1 2 1 2 0 2 -1 1.5 -1.5 1 -2.5 0 -2.5 -0.5 -2 -1.5 -2 -2.5 -1 -4 0 -1.5 1zM250.5 96l2 2 0.5 1.5 -0.5 3 -2 1.5 -3 -0.5 -1 -1 -0.5 -2 0 -2.5 1 -1 1.5 -1zM647 108l-0.5 2 -0.5 3 1 2 1 1 2 0.5 2.5 0 2.5 -0.5 1.5 -2 1 -2 0 -3 -1 -1.5 -1 -1 -4.5 0 -2 0.5zM218.5 116.5l-3.5 8 -6 2.5 -2.5 2 -1.5 3 0 3.5 2.5 7.5 1.5 7 1.5 2.5 4 1.5 8.5 2 3 0 2.5 -1.5 2.5 -2.5 0.5 -3 2 -16 2 -3.5 3 -3.5 0.5 -2.5 -0.5 -2 -1 -1 -8 -5 -2.5 -1 -2 -0.5 -3 0.5 -2 1zM229.5 118.5l3 3 1 3 -2.5 8.5 -1 14 -1 3 -1.5 2 -2.5 1 -4 -0.5 -7.5 -1 -2 -1.5 -1 -2 -3 -11.5 0 -2.5 1 -2 2 -2.5 6 -2 2 -1 2 -6 2 -2 3.5 -1zM350.5 46l0 25.5 -1 4.5 -1 2 -1.5 1 -5.5 1.5 -3 1 -1.5 2 -1 3 0 3.5 1.5 3 2 1.5 5.5 2.5 1 1.5 0.5 3 -1.5 3 -3 1 -10 0.5 -2 1 -2 1 -1 4 -0.5 9.5 -1 4 -2.5 2.5 -6.5 3 -1.5 2 -2 4 -2 2 -2 0.5 -1.5 -1 -2 -7.5 -2.5 -3 -3.5 -1.5 -4.5 0 -3 1.5 -5 3 -3.5 2.5 -3 8 -1 4.5 0.5 3 1.5 2.5 2 1 5 1.5 2 1.5 2.5 8.5 2 2 3 1 11 0 9.5 1 3 0.5 1 1 0.5 2 -1.5 2 -3 1 -11.5 0.5 -2.5 0.5 -2 2 -1.5 2.5 0 3 1.5 7.5 1 7.5 0.5 2 1.5 1.5 4.5 2.5 1.5 1.5 3 13.5 1 2.5 2 2 4 2 2 3 3 13 0 22 1 4.5 1.5 2 5.5 3.5 9.5 0.5 -2.5 -1.5 -2.5 -1.5 -1.5 -2 -1.5 -2.5 0 -4 1.5 -9.5 -3 -14.5 -4.5 -6 -5 -11.5 -1.5 -6 -1.5 -1.5 -4 -4 -2.5 -7.5 -2.5 -2.5 -5 -2.5 -1 -1 -0.5 -2.5 -1 -8.5 0.5 -2 0.5 -2 1.5 -1 2 -0.5 11.5 -0.5 3.5 -1 2 -1.5 1.5 -3 0 -3 -0.5 -1.5 -2.5 -3 -3 -1 -6 -1 -7.5 -1.5 -11 -1 -2 -1 -0.5 -1 0 -4 0.5 -1 2 -1 9 -0.5 4 -1.5 2 -2 3.5 -6.5 8 -4.5 4.5 -6.5 6.5 -5 1.5 -1.5 2 -5 1.5 -2 5.5 -2.5 2.5 -2 1 -2 0.5 -3 0 -9.5 0 -3.5 -1 -2 -1 -1.5 -5 -2 -1 -1 -0.5 -2 0.5 -1.5 2 -1 12.5 -3 2.5 -1 1.5 -2 2.5 -6.5 2 -1.5 4.5 -2 2 -1.5 4 -6.5 2 -1.5 3.5 -1 8.5 0 10.5 2 4.5 0 8 -3.5 5.5 -1.5 1.5 -1 1.5 -3 0.5 -5.5 -12.5 0 0 4.5 -1.5 3 -2 1.5 -2.5 0.5 -2 -0.5 -2.5 -1.5 -0.5 -3 -0.5 -4.5zM299.5 130.5l2 1.5 1 2.5 0 4 -1.5 3 -1.5 1 -4.5 1.5 -1 1 -2 5 -1 0.5 -4.5 0.5 -3.5 -1 -1 -2 -0.5 -2 0.5 -3 1.5 -2.5 3.5 -3 2.5 -3.5 2.5 -2.5 4 -1.5zM293 212.5l-1.5 2.5 -0.5 3 0.5 3 1 2.5 2.5 2 2 0.5 2.5 0 3 -1.5 2 -2.5 0.5 -3 0 -4 -1.5 -2.5 -3 -2 -2.5 -0.5 -3 1zM299.5 217l0 2 -1 1 -1.5 0.5 -1.5 -0.5 -0.5 -2 1 -2 2 -0.5 0.5 0.5z"/><path fill="#009696" stroke="#009696" d="M181 46l0.5 5.5 0.5 3 1 1.5 2 2 3 1 4 0.5 2.5 -1 1.5 -1.5 1 -3.5 0 -7.5 -2 0 -0.5 6.5 -1 2.5 -1.5 1.5 -2 0.5 -2.5 -1 -2 -1.5 -0.5 -3 -0.5 -5.5zM148.5 46l1.5 31 1 3 1 1 2 0.5 29.5 1.5 2 1.5 2.5 6.5 2 1.5 2 0 1.5 -0.5 1 -1 1 -3.5 -1 -4 -3.5 -3.5 -1 -2 -0.5 -2 1.5 -2 5.5 -2.5 4.5 -1.5 4 0.5 7.5 2.5 3 0 3 -1.5 1.5 -3 2 -12.5 0 -10 -1.5 0 -0.5 9 -2 10.5 -0.5 2 -2 1.5 -4 0.5 -6.5 -2.5 -4 0 -10 3 -2 1 -1.5 1.5 -2 7.5 -1 1 -2 0.5 -8 0 -13 -1.5 -5 -1 -2.5 -1.5 -1 -2.5 -1 -29zM212.5 81l-2 1.5 -1.5 3 -0.5 4 0 8.5 0.5 2.5 1 2 1.5 2 3 0.5 2 0 2 -1.5 2 -6.5 1.5 -2 6.5 -2.5 2.5 -1.5 1.5 -1.5 0.5 -3 -0.5 -2 -1.5 -2 -2.5 -1.5 -1.5 -0.5 -9.5 -0.5zM219 84.5l7 0.5 1.5 1.5 0 1.5 -1 1.5 -4.5 1 -3 2 -2 2.5 -1.5 4.5 -1 1 -1 0 -1 -1 -0.5 -2.5 0 -7 0.5 -2.5 2 -2zM246 100.5l0.5 2 1 1 3 0.5 2 -1.5 0.5 -1 0 -2.5 -1.5 -2.5 -3 -0.5 -1.5 1 -1 1zM186 109.5l-0.5 2.5 1.5 2 2 0.5 2 0 1.5 -0.5 0.5 -1 0.5 -3 -0.5 -2 -1 -1 -3 0 -2 1zM92.5 107l-1 2 -0.5 3 1 4.5 1.5 2.5 1.5 1 2 0 2 -0.5 2 -1.5 1 -2 0 -4 -0.5 -3 -2.5 -3 -3 -2 -1.5 0.5zM98 108.5l1.5 2.5 0 3 -2 2 -2.5 0 -1.5 -2 -0.5 -2 0.5 -2.5 1 -1.5 0.5 -0.5 1 0zM174.5 132l-1.5 2.5 0.5 2 1 2 1 1 2 1 3 -0.5 2 -1 1 -1.5 0.5 -2 -0.5 -1.5 -1 -2 -2 -1.5 -2 -0.5 -2 0.5zM221 119.5l-2.5 7 -2 1 -6 2 -1.5 1.5 -1.5 3 0 2.5 3 11.5 1 2 2 1.5 2 0.5 9.5 1 2.5 -1 2 -3 1.5 -16 2.5 -7.5 0 -2 -1.5 -3 -2.5 -1.5 -2 -1 -3.5 0zM228.5 123.5l0.5 2.5 -1 7 -0.5 11 -0.5 3.5 -1.5 1.5 -2.5 0.5 -5.5 -0.5 -3 -1 -1.5 -2 -2.5 -7.5 -0.5 -3 0.5 -2.5 2 -1.5 6 -1.5 2 -1 1.5 -2 1.5 -3.5 1.5 -1.5 2 0zM117 46l-0.5 9 -2.5 11.5 -2.5 3.5 -6 3 -1.5 1 -4.5 9.5 -2.5 6.5 -1 1 -1 0.5 -0.5 -0.5 -1 -1.5 -1 -2 -1 -13.5 -1 -3 -2 -1.5 -5.5 -2 -2 -1 -3 -6.5 -1.5 -1.5 -3 -1 0.5 1 2.5 1 1 1.5 1.5 4.5 1.5 2 1.5 1 5.5 1.5 2 1.5 1 3.5 0.5 11.5 0.5 3.5 2 3.5 1.5 1.5 1 0 2 -2.5 2 -8 3 -4.5 2.5 -4 6 -4 3.5 -4.5 5 -15 1 -1 2 7.5 3 13.5 0 3.5 0 4 -3.5 7 -1.5 2.5 -3 3 -2 3.5 -4 18 -3 10.5 -1.5 2 -5.5 2.5 -1.5 2 -1 3 0.5 3.5 1.5 2 2.5 2 2.5 1.5 10.5 2 1.5 1 -0.5 1 -1 1 -10.5 2 -2.5 1.5 -2 2 -1 2 -0.5 3 0.5 2 2 3.5 5 5 2 5.5 2 3 3 2.5 5 3 1 3 1 9.5 2 3.5 2.5 2.5 5.5 3.5 5 7.5 6.5 4.5 2.5 6.5 1.5 2 2 1.5 6.5 2.5 1 2 2.5 7.5 1 2 0.5 0 0 -9 -1 -3.5 -2.5 -2 -5.5 -2 -2 -1 -1.5 -1.5 -2.5 -7 -1.5 -1 -4 -2 -2 -1.5 -1.5 -2 -1.5 -4.5 -1.5 -2 -5.5 -2.5 -1.5 -1.5 -1.5 -2.5 -2.5 -13.5 -1.5 -2 -5.5 -2 -2 -1.5 -2 -3 -2 -6.5 -5.5 -4.5 -1 -2 0 -3 1.5 -3 2.5 -1 12.5 -3.5 1.5 -1 0.5 -2 -0.5 -3 -1.5 -2 -12.5 -4 -2 -1 -0.5 -1.5 0.5 -2 4 -2.5 2 -3 5.5 -30 2 -3 4 -3 1 -2 3 -7.5 0.5 -3.5 0 -6 -2 -18 -0.5 -9zM220.5 205l-2 5.5 -4.5 4.5 -1 3 0.5 2 4.5 4.5 1.5 4 2.5 13 -2 10.5 3.5 1 1.5 -3.5 4.5 -3 1.5 -2 0.5 -2 0 -2.5 -1 -2 -4.5 -3.5 -2 -2 -1.5 -7 -2 -6.5 0 -3 2.5 -7.5 1.5 -2 1.5 -0.5 1.5 1 2.5 4.5 1.5 1.5 2 1 5 2 2 2 0.5 4 0 17 -1 16.5 3.5 0 0.5 -5.5 1.5 -6.5 0 -3.5 0 -18 -0.5 -5 -1.5 -2 -2 -1.5 -7 -3 -1.5 -2 -2.5 -3.5 -2 -1.5 -1.5 -0.5 -3 0 -2 0.5zM255.5 46l0.5 5.5 1 3 3 1 3 -1 1 -2 0.5 -6.5zM726.5 64.5l2 5 2.5 2 5 0.5 6.5 -1 0 -2 -5 -3 -2.5 0.5 -2 -0.5 -1 -1zM655.5 96l-0.5 3.5 -1.5 2 -6.5 2 -2.5 2 -1 1 0.5 4.5 -2 1.5 -0.5 3 -1 1 -4 2 -1 1.5 -0.5 1.5 -0.5 3 0.5 1.5 2 2 2.5 1 3 -0.5 1.5 -1.5 2 -4 1 -1 6.5 -2 3 -1.5 3 -3.5 2.5 -5.5 6 -4 3 -4 0.5 -2.5 0 -5.5 -4.5 0 -0.5 4.5 -0.5 2.5 -1 1.5 -2 0.5 -2 -1 0 -1 -0.5 -7zM655.5 106.5l1.5 1.5 0.5 2 -0.5 3 -1 2 -1.5 1 -3 1 -1.5 -0.5 -2.5 -0.5 -1 -2 -0.5 -2 0.5 -2 0.5 -2 2 -1 2 -0.5zM681.5 93.5l0.5 7 2 9.5 2 3 1.5 0.5 2 -1.5 1 -3 0 -15.5zM387 108l-1 2 0 2 0.5 2 1.5 2 1.5 0.5 3 0 2 -0.5 1.5 -1.5 1.5 -3.5 0 -4.5 -0.5 -0.5 -6.5 0 -2 1zM598.5 127.5l0 16.5 0 4.5 2 3 2 1 2 0 2 -1 1.5 -1.5 1.5 -2 1 -2 0 -20 -0.5 -5 -3.5 3zM292 131.5l-2.5 2.5 -2.5 3.5 -3.5 3 -1.5 2.5 -0.5 3 0.5 2 0.5 1.5 2 1 4 0.5 2.5 -0.5 1 -0.5 2 -5 1 -1 5 -1.5 1 -1 1 -2 0.5 -5 -0.5 -1.5 -1.5 -2 -2 -1 -1.5 0 -3 0.5zM298 136l-1 1 -1 0 -1 -0.5 0 -1 0.5 -1 1.5 0 1 1zM421.5 46l-0.5 5.5 -1.5 3 -1.5 1 -5.5 1.5 -8 3.5 -4.5 0 -10.5 -2 -8.5 0 -3.5 1 -2 1.5 -4 6.5 -2 1.5 -4.5 2 -2 1.5 -2.5 6.5 -1.5 2 -2.5 1 -12.5 3 -2 1 -0.5 1.5 0.5 2 1 1 5 2 1 1.5 1 2 0 3.5 0 9.5 -0.5 3 -1 2 -2.5 2 -5.5 2.5 -1.5 2 -2 5 -1.5 1.5 -6.5 5 -4.5 6.5 -8 4.5 -3.5 6.5 -2 2 -4 1.5 -9 0.5 -2 1 -0.5 1 0 4 0.5 1 2 1 11 1 7.5 1.5 6 1 3 1 2.5 3 0.5 1.5 0 3 -1.5 3 -2 1.5 -3.5 1 -11.5 0.5 -2 0.5 -1.5 1 -0.5 2 -0.5 2 1 9.5 1.5 2.5 5 2.5 2.5 2.5 2.5 7.5 4 4 1.5 1.5 1.5 6 5 11.5 5 6.5 2.5 14 -1.5 10.5 0 3 1 1.5 1 2 2.5 2 2.5 1.5 2 0.5 5.5 3.5 2 3.5 0 -5.5 -1.5 -3.5 -3 -2 -5 -2 -1 -1 -1 -1.5 0.5 -3 0.5 -1.5 6 -3 1 -1.5 0.5 -2.5 0 -3 -1.5 -2 -5 -2 -1.5 -2.5 -2 -8.5 -2 -7.5 -2 -3 -3.5 -2.5 -2 -2.5 -3 -14 -0.5 -10.5 1 -4.5 2.5 -2.5 5.5 -2.5 2 -2.5 0.5 -7.5 -0.5 -7.5 -1 -2 -2 -1.5 -8.5 -3.5 -8 -1.5 -1.5 -1 -0.5 -2 0.5 -1.5 1.5 -1.5 5.5 -2 1.5 -1.5 3 -7 2 -1.5 4.5 -2.5 2 -1.5 4 -6.5 1.5 -1.5 5 -2 2 -1.5 2.5 -5.5 1 -2 2 -1.5 4 -1.5 1.5 -1.5 1.5 -3 0 -5.5 0.5 -0.5 7 -0.5 2.5 -1 1 -1 1 -2 0.5 -2.5 0 -22 1 -3 2.5 -2.5 2.5 -1 3 1 1.5 1.5 1.5 6 2.5 2 3 1 5.5 0 0.5 0.5 0 23 0.5 0.5 5 -0.5 2.5 -0.5 2 -1.5 2.5 -6.5 2.5 -2.5 4.5 -1 22.5 -0.5 3 -1 1.5 -2 0.5 -1.5 0.5 -5 -0.5 -1.5 -15 0 -4 -0.5 -3 -2 -2 -6.5 -1.5 -1.5 -3 -1.5 -6.5 -0.5 -0.5 -2 1 -3 2.5 -2.5 12 -2.5 2 -0.5 2.5 1 2 2 2.5 4.5 1.5 2 6.5 2.5 2 1.5 1 2.5 0.5 6.5 0.5 0.5 3.5 0 4 -1 1.5 -1 1.5 -2 0.5 -3.5 -2 -0.5 -0.5 -0.5 0 -1 11 -8.5 4.5 -2 1.5 -2 2 -1 9.5 -1 -1.5 -0.5 -10.5 -0.5 -8.5 -2.5 -6 -1 -1.5 2.5 -2.5 2 -4.5 0.5 -8.5 -0.5 -3 -1 -2 -2 -0.5 -1.5 -0.5 -2.5 -7.5 -1 -2.5 -4zM360 96l1.5 3.5 0 5 -0.5 1 -2.5 0 -2 -0.5 -2 -2.5 -0.5 -2 0.5 -3.5 1 -2 1 -0.5 2 0.5zM408.5 70l0.5 1.5 0 4.5 -1.5 4 -2 1 -1.5 0.5 -6 0.5 -0.5 -0.5 0.5 -5.5 1 -3.5 2 -1.5 2 -0.5zM297 220.5l1.5 -0.5 1 -2 -0.5 -2 -1 -0.5 -2 0.5 -1 2 0.5 2z"/><path fill="#00c633" stroke="#00c633" d="M152 46l1 29 1 2.5 2.5 1.5 5 1 13 1.5 9 -0.5 2 -1 1.5 -7 1 -1 2 -1.5 11 -3.5 4 0 6.5 2.5 3 0 2 -1 1 -1 1 -2 1.5 -10.5 0.5 -9 -1.5 0 -0.5 8.5 -1 5.5 -2 4 -1 1 -2 0.5 -3 -1 -8.5 -7 -1 -3 0 -8.5 -3 0 0 7.5 -1 3.5 -2.5 2 -2.5 0.5 -5 -1 -3 -2.5 -1.5 -3.5 -0.5 -6.5zM179.5 59.5l6.5 2.5 6.5 1.5 0 1 -0.5 1 -4 1.5 -2 2 -1 2.5 -1 5.5 -1 2 -2.5 1 -6 0 -9 -2.5 -2.5 -1.5 -1 -2 0.5 -1.5 7.5 -5.5 4 -6 2.5 -2zM212 88.5l0 3.5 0 6 1 1.5 0.5 1 1 0 1 -1 1.5 -4.5 2 -2.5 3 -2 4.5 -1 1 -1 0.5 -1 -0.5 -1 -1.5 -1.5 -8.5 -0.5 -4 1.5zM224 123l-2 4 -1.5 2 -2 1 -6 1.5 -1.5 1.5 -1 1.5 0.5 4 2.5 7.5 1 2 2 1 8 0.5 2 -1 1 -1.5 2 -22.5 -1.5 -2.5 -1.5 -0.5zM218.5 136l0 1.5 -1 1.5 -1 0 -2 -0.5 -0.5 -1 0 -2 1 -1 2 0zM295 136.5l2 0.5 0.5 -0.5 0.5 -1 -1 -1 -1 0 -1 1zM120 52.5l-5 15 -2.5 3.5 -6 4 -2 2.5 -4 6 -2.5 9 -1 1.5 -2 1 -2 -2 -2 -3.5 -0.5 -13.5 -0.5 -3.5 -2.5 -2.5 -5.5 -1.5 -1.5 -1 -1.5 -2 -1.5 -4.5 -1 -1.5 -2.5 -1 3 3.5 1.5 4.5 1.5 2 2 1 4.5 1 1.5 1 1 1.5 1 4 -0.5 12.5 1 2.5 2.5 6 0.5 1.5 -0.5 2 -2.5 6 -1 2.5 0 15.5 -1 1.5 -2 1.5 -2.5 1 -5 0 1.5 5 -1 7 -3.5 7.5 5 7 0.5 5 4.5 -0.5 2.5 -1 1 -2 0.5 -10.5 1.5 -4 2 -1 1.5 0 2 0.5 2 1.5 1.5 3 -3 8.5 0.5 4 1 2.5 4.5 7 3 6.5 6 7.5 1 3 0.5 7.5 1.5 2.5 8 9 1 1.5 0.5 5 0.5 0.5 4 0 2.5 1 4 4 1 2 0.5 2.5 6 1 1.5 2.5 4.5 2 -2 -1.5 -1 -1.5 -3 -7 -6.5 -4.5 -5 -7.5 -5.5 -3.5 -2.5 -2.5 -2 -3.5 -1 -9.5 -1 -3 -5 -3 -3 -2.5 -2 -3 -2 -5.5 -5 -5 -1.5 -3 -0.5 -1.5 0 -3 0.5 -2 2.5 -3 2.5 -1.5 10.5 -2 1 -1 0.5 -1 -1 -1 -1.5 -0.5 -8.5 -1.5 -3.5 -1.5 -3 -3 -1.5 -4 0.5 -2.5 1 -2 2 -1.5 4.5 -2 1.5 -2 3 -10.5 4 -18 2 -3.5 3 -3 1.5 -2.5 3.5 -7 0 -4 0 -3.5 -3 -13.5 -2 -7.5zM98.5 105.5l1.5 2 1.5 2.5 0.5 5 -1 2.5 -1 1.5 -2 1 -2 0 -2.5 -1 -1.5 -2.5 -1 -2.5 0 -4 1.5 -3 2 -2.5 1.5 -0.5zM121 64.5l2.5 5 1 3 0.5 3.5 -0.5 4 -2 3 -3 3.5 -1.5 2 -3.5 7.5 -2 10.5 -4 7.5 -1 0.5 -1 0 -3 -5.5 -4.5 -6.5 -1 -3 2 -7.5 1 -6.5 3 -4.5 6.5 -5.5 8.5 -11 1 -0.5zM125 217l0 -4.5 -0.5 -0.5 -3.5 1 -2.5 2 0.5 1 1 1zM157.5 233.5l-0.5 -3 -1 -1 -5.5 -2 3.5 2.5 3 2.5zM223 209.5l-2.5 8.5 3 13.5 1.5 2.5 5.5 4 1 2 0 1.5 0 2 -1 2 -5.5 4 -1.5 3.5 7 2.5 9.5 0 1 -16.5 0 -17 -0.5 -4 -2 -2 -5 -2 -2 -1 -1.5 -1.5 -2 -4 -1 -1 -1 -0.5 -1.5 0.5zM400 71.5l-1.5 1.5 -0.5 2 -0.5 6.5 0.5 0.5 5 0 3.5 -1 1.5 -2 0.5 -2 0.5 -6.5 -1.5 -0.5 -3.5 0zM354 98l0.5 3.5 1 2.5 2 1.5 3.5 0 0.5 -1 0 -5 -1.5 -3.5 -1.5 -1 -2 -0.5 -1.5 1.5zM539.5 74l0 6.5 3 -1 6.5 1 0.5 -2 -3 -1.5 -3 0zM539.5 87l-1 3 -1.5 2 -8.5 4.5 -0.5 3 1 3 2 2 2.5 1 11.5 0.5 2.5 1 2 1 1 2 0.5 6.5 0.5 0.5 11.5 0 0 0.5 0.5 5 1.5 -2.5 3 -3 -4.5 0 0 -0.5 0 -5.5 1.5 -3 -2 -2 -4.5 2 -4.5 3.5 -1 -0.5 -2.5 -4 0 -1.5 5.5 -4.5 2 -4.5 -1 -3 -5.5 -4 -9 -4zM573.5 137.5l-2 2.5 -6 2.5 -1 1.5 0 3 1 1.5 2 0.5 15 2 4 1.5 1.5 2 1 3 0.5 12 0.5 4 2 2 2 -0.5 3 -2.5 2.5 -5.5 7 -4.5 3 -6 1.5 -2.5 3 -2 6 -3 4.5 -6.5 2.5 -1.5 8.5 -2 16 -1.5 3 -1 1.5 -1 1.5 -2.5 0.5 -7.5 1.5 -4 7.5 -7 4 -5.5 2.5 -1.5 2 -0.5 2 0.5 3.5 6.5 4 4 2.5 0.5 3 -1.5 3 -3 1.5 -3 0.5 -17.5 -5 0 -0.5 16.5 -0.5 2 -1 1 -2 0.5 -1.5 -1.5 -1 -2.5 -2 -9 -0.5 -7 -10 0 -0.5 7 -2 4 -2 2 -4.5 2.5 -3 6 -2 2.5 -4 2.5 -6.5 2 -3 5 -2.5 2 -3 0 -2 -1 -1.5 -2 -0.5 -2.5 1 -3.5 5.5 -4 1 -3.5 -2 1 -7.5 1.5 -7 0 -8.5 -1 -6 0.5 1.5 4 -2.5 2.5 0.5 5 0 20 -2 4 -3 2 -2 0.5 -2 -0.5 -1.5 -1 -1 -2 -0.5 -5 0 -16.5 -20 8.5 -4.5 0.5zM705.5 89l1 2 1.5 1 1.5 0.5 2 0 3 -2.5 3 -4.5 1.5 -2 2 -0.5 1.5 -0.5 2 0.5 2 0.5 4 4.5 1.5 1.5 3 0 3 -0.5 1.5 -1.5 2 -3 2 -1.5 -0.5 -0.5 -0.5 -11.5 -6.5 1 -5 -0.5 -2.5 -2 -2.5 -5 -9.5 9 -3.5 6 -5.5 8zM643.5 106.5l1.5 -2 2 -1 6.5 -2 1.5 -2 0.5 -4 -2 1 -10.5 7zM468.5 110l1 4 2.5 2 2.5 0 2 -2 0.5 -2 0 -3 -1.5 -1.5 -1 -1 -1.5 -0.5 -4 0 -0.5 0.5zM543 120l-0.5 4.5 1.5 2.5 1.5 1.5 3 -0.5 1.5 -2 0.5 -1.5 0.5 -7 -1.5 0 -4 0 -1.5 1zM479.5 58.5l-6.5 0.5 -2 1 -1.5 2 4 -2zM456.5 74.5l-1 4.5 -2 2 -2.5 1 -5.5 0 -0.5 -0.5 -0.5 -6.5 -1 -2.5 -2 -1.5 -6.5 -2.5 -1.5 -2 -2.5 -4.5 -1.5 -2 -2 -0.5 -2 -0.5 -12.5 3 -2 1 -1 1.5 -1 3 0.5 2 6.5 0.5 3 1.5 1.5 1.5 2 6.5 3 2 4 0.5 15 0 0.5 0.5 0 2 -0.5 5 -2 2.5 -3.5 1.5 -22 0 -4 0.5 -2.5 2 -2.5 6.5 -1.5 2 -2.5 1 -6 0.5 -0.5 -1.5 0 -22 -0.5 -0.5 -5.5 0 -3 -1 -2.5 -2 -1.5 -6 -1.5 -1.5 -3 -1 -2.5 1 -2 2 -1.5 3.5 0 22 -0.5 2.5 -1 2 -1 1 -2.5 1 -7 0.5 -0.5 0.5 0 5.5 -1.5 3 -1.5 1.5 -4 1.5 -2 1.5 -1 2 -2 4.5 -1.5 2 -6 2.5 -1.5 1.5 -1.5 2 -2 3.5 -1.5 2 -6.5 4 -1.5 1.5 -2 5 -1 1.5 -6 2.5 -2 2.5 -0.5 2 1.5 1.5 8.5 2 7.5 3 3 2 1 2 0.5 7.5 -0.5 7.5 -2 2.5 -5.5 2.5 -2.5 2.5 -1 4.5 0.5 11.5 3 13.5 2 2 3.5 2.5 2 3 2 7.5 2 8.5 1.5 2.5 5 2.5 1.5 2.5 0 3 -1 2 -1.5 1.5 -4 1.5 -1 1.5 -1 2 0.5 3 1.5 1.5 5 2 3 2 1.5 3.5 0 5.5 5.5 10 2 2 1 -2 0.5 -5 0 -51 0 -4.5 -1 -2 -1 -2 -2 -1.5 -4 -1.5 -1.5 -1.5 -2.5 -6 -1.5 -2 -2 -1 -4.5 -2 -2 -1.5 -1 -2 0 -2 0.5 -1.5 1.5 -2 5.5 -2.5 2 -1.5 1.5 -2 2 -5.5 2 -1.5 5 -3 2.5 -3 0.5 -4 0 -18.5 0.5 -3 1 -2 2 -1.5 4.5 -2 2 -1 1.5 -2 2.5 -6 2 -1 5.5 -2.5 1.5 -2 1.5 -4.5 1.5 -2 4 -1.5 10.5 0 3.5 -1 2.5 -2.5 2.5 -6.5 2.5 -1.5 3 -0.5 3 1.5 1.5 1.5 2 5 3 1 22 0.5 5.5 -1 2 -1.5 0.5 -3 -0.5 -1.5 -1 -1.5 -6 -2 -1.5 -2 -1 -1.5 0 -2 0.5 -2 1.5 -1.5 1.5 -1 3 -0.5 16 0 0.5 -0.5 0.5 -7.5 1 -2 2 -1.5 3.5 -1 20 0 4 -0.5 2.5 -2 2.5 -5.5 1.5 -2 4 -1 8.5 -0.5 5.5 -1 2.5 -2 0.5 -4 -2 0 -7 2.5 -7.5 -1 -5 -3 -4.5 -1.5 0 -1.5 2 -3.5 -2.5 0.5 -3.5 3.5 -20.5 5 -6 -2.5 -7 1.5zM389.5 106.5l7.5 -0.5 0.5 0.5 -0.5 5.5 -1 3 -1.5 1 -2 0.5 -3 0 -2 -1 -1 -1.5 -0.5 -2 0 -2 1 -2z"/><path fill="#63ff00" stroke="#63ff00" d="M200 46l0 8.5 1 3 9 7 2.5 1 2 -0.5 2 -3 2 -5 0.5 -3.5 0 -7.5 -1.5 0 -0.5 6.5 -0.5 4 -2 2.5 -2 0.5 -2.5 -1 -3 -3.5 -0.5 -2.5 -0.5 -6.5zM173 62l-2 3.5 -1.5 2 -5 3 -2 2 -0.5 1.5 0.5 1 2 2 9 3 5 0.5 4 -1 1 -0.5 0.5 -2 1 -6 1 -2 2 -2 4 -1.5 0.5 -1 0 -1 -6.5 -1.5 -7.5 -3 -3 0.5zM180 68.5l1.5 1 1 3 0 3.5 -1 1.5 -2 1 -2 0 -3 -0.5 -2 -1 -1 -1 -0.5 -2 2 -3 1.5 -1.5 2 -1 2 -0.5zM120 64l-9.5 11.5 -6 4.5 -2 2.5 -1.5 3 -1.5 7.5 -1.5 6 0 1.5 1 2 4.5 6.5 3 5 1 0.5 2 -2 3 -6 2 -9.5 1.5 -4.5 3 -5.5 4.5 -5.5 1 -2.5 0.5 -3 -0.5 -3.5 -3 -7 -0.5 -1zM121 69.5l1.5 2 0.5 1.5 0.5 3 -0.5 3 -1.5 2 -3.5 3 -1.5 1.5 -3.5 10.5 -1 6.5 -1.5 3 -2 2 -2 0 -2 -1 -1.5 -2 -2 -4 -0.5 -3.5 1.5 -11.5 2.5 -4 7 -3 3 -5.5 2.5 -3 2 -1 1 -0.5zM80 69.5l6.5 2.5 2 2 0.5 5 -1 10.5 3 10 -0.5 3 -2.5 6.5 -1 6 -1 3 -3 1.5 -8 0 1 3.5 3 6.5 7 -0.5 1.5 -1 1.5 -2 0.5 -2.5 0 -8.5 0 -5 1 -2.5 2.5 -6 0.5 -2 -0.5 -1.5 -2.5 -6 -1 -2.5 0.5 -12.5 -1 -4 -1 -1.5 -1.5 -1 -4.5 -1 -2 -1 -1.5 -2 -1.5 -4.5 -2 -2.5zM564.5 108.5l-1 2.5 0 5.5 0 0.5 4.5 0 -1 -6.5zM214 137.5l1.5 1.5 2 0 1 -1.5 -0.5 -2 -1 -1 -2 0 -1 1zM527 75l-0.5 4 -2.5 2 8 1.5 7.5 -2 0 -6.5 -6 1zM518.5 82l-8 0.5 -3.5 0.5 -2.5 2.5 -2.5 5.5 -2.5 2 -4 0.5 -20 0 -3.5 1 -2 1.5 -1 2 -0.5 7.5 -0.5 0.5 -16 0 -3 0.5 -1.5 1 -1.5 1.5 -0.5 2 0 2 1 1.5 1.5 2 6 2 1 1.5 0.5 1.5 -0.5 3 -1 1 -2 1 -6.5 0.5 -20 -0.5 -3 -1 -2 -5 -2 -2 -2.5 -1 -3.5 0.5 -2 1.5 -2.5 6.5 -2.5 2.5 -3.5 1 -10.5 0 -4 1.5 -1.5 2 -1.5 4.5 -1.5 2 -5.5 2.5 -2 1 -2.5 6 -1.5 2 -2 1 -4.5 2 -2 1.5 -1 2 -0.5 3 0 18.5 -0.5 4 -2.5 3 -5 3 -2 1.5 -2 5.5 -1.5 2 -2 1.5 -4.5 2 -2 1.5 -1 2 0 1.5 0.5 2 1.5 2 5.5 2.5 2 1 1.5 2 2.5 6 1.5 1.5 5 2 1.5 2 1 2 0.5 5.5 0 51 -0.5 5 -1 2 7.5 10 5.5 10.5 0.5 0.5 0 -2.5 -1.5 -7.5 -1 -10.5 -0.5 -14 1 -14 0 -13.5 2.5 -11.5 -0.5 -10 -0.5 -2 -1.5 -2 -7.5 -4.5 -4.5 -8 -7 -4.5 -1 -2 0 -2 1 -2.5 5.5 -5 2 -5.5 2 -3.5 3 -2 6 -2 2 -2 1 -4 0 -18 0.5 -2.5 1 -2 2 -2 1.5 -1 8.5 -2.5 25 -0.5 3.5 -0.5 1.5 -1 1 -2 1.5 -6.5 1.5 -5.5 1 -1.5 2 -1 5 -0.5 23.5 -0.5 24 -5.5 1.5 -1 1.5 -2.5 1.5 -6 1 -6.5 1.5 -3 2 -0.5 2 -0.5 19 0 0 -2 3.5 -8 -6.5 4 -1 -0.5 -0.5 -1 3.5 -4.5 1.5 -4.5 3.5 -4.5zM473 106l2.5 1.5 1.5 2.5 -0.5 4 -1 1 -1.5 1 -2 0 -2 -1 -1 -2 -0.5 -3 0 -3.5 0.5 -0.5zM523.5 107.5l2.5 1.5 3.5 6 6 3.5 1 2 2 6.5 4.5 9.5 2 1.5 4.5 2 2 1.5 1 1.5 1.5 5 1 1.5 2.5 1.5 6 1.5 9 1 7.5 2 2.5 1 1 1 0.5 2 0.5 2.5 -0.5 10.5 -1 3 -4.5 3.5 -0.5 3 1 1.5 1.5 1 9.5 0 4 -1 5.5 -6.5 7.5 -4.5 6 -13 2 -3 9.5 -4.5 6.5 -2 2 -1.5 2.5 -3.5 2 -1 9.5 -2.5 8.5 -1.5 7 -2.5 2.5 -1 1 -2 0.5 -1.5 0.5 -8.5 0.5 -3 2 -3 2 -2 2 -1 2 0 2.5 1 3.5 3 3.5 5.5 1 0.5 1.5 0.5 2 -1 2.5 -4.5 2.5 -2.5 7 -5 2.5 -5.5 1.5 -2 6 -2.5 1.5 -1.5 3 -5.5 2 -2.5 2 -1 2 -1 2.5 0 13.5 2.5 1.5 1 1.5 1 1.5 3.5 2 -0.5 4.5 -2.5 2.5 -1.5 -3 -3 -2 -5.5 -3 -3.5 -2 1.5 -2.5 4 -2 1 -2 0 -4 -0.5 -4.5 -5.5 -2 -0.5 -2 -0.5 -1.5 0.5 -2 0.5 -1.5 2 -3 4.5 -3 2.5 -2 0 -2 -0.5 -2 -3 -6.5 4.5 -3.5 0 -0.5 17.5 -1.5 3 -3 3 -3 1.5 -2.5 -0.5 -4 -4 -3.5 -6.5 -2 -0.5 -2 0.5 -2.5 1.5 -4 5.5 -7.5 7 -1.5 4 -0.5 7.5 -1.5 2.5 -1.5 1 -3 1 -16 1.5 -8.5 2 -2.5 1.5 -4.5 6.5 -6 3 -3 2 -1.5 2.5 -3 6 -6 3.5 -1.5 2 -2 4.5 -2 2 -2 1 -2 -0.5 -1.5 -2.5 -0.5 -15 -1 -3 -1.5 -2 -4 -1.5 -15 -2 -2 -0.5 -1 -1.5 -0.5 -2 1 -2 1.5 -1 5.5 -2.5 2 -3 -5.5 1 -11.5 -4 -0.5 -0.5 0 -1 3.5 -4 0.5 -3 3 -2.5 -0.5 -5 0 -0.5 -11.5 0 -0.5 -0.5 -0.5 -6.5 -2 -2.5 -3.5 -1.5 -9.5 -0.5 -4 -0.5 -2 -1.5 -1.5 -3 0 -1.5 0.5 -2.5 -2 1zM549.5 117.5l1.5 0 -0.5 8 -2 2.5 -3 0.5 -1.5 -1.5 -1 -1.5 -0.5 -2 0 -3 1.5 -2 1 -0.5zM534.5 93.5l3.5 -2.5 1 -1.5 0.5 -2.5 -3.5 3.5zM566.5 193.5l-2.5 8.5 0 3.5 1 2 1.5 1 3 0 2 -1.5 0.5 -2 0 -4 -1 -6.5 -1 -2 -1.5 -0.5zM90.5 145l-1 12.5 -1 2 -1.5 1 -5.5 0.5 0.5 3.5 4.5 0 8 -1.5 1.5 0.5 2 1.5 2.5 4 4 12 1 13.5 1 1.5 6.5 4 2.5 3 1 2.5 0 3.5 2 3.5 0 2.5 2.5 -2 3.5 -1 0.5 0.5 0 4.5 4.5 1 4 1 3 2.5 1 0 -0.5 -2.5 -1 -2 -3 -3 -2.5 -1.5 -5 -0.5 -0.5 -0.5 -0.5 -4 -1 -2.5 -6.5 -7 -2 -2.5 -1 -3 -0.5 -6.5 -1 -3 -6 -7.5 -3 -6.5 -4.5 -7 -1 -2.5 -0.5 -4 3 -7.5 -0.5 -3 -2 -2 -3 -1 -2.5 0.5z"/><path fill="#96ff00" stroke="#96ff00" d="M206 46l0.5 6.5 1 3.5 2.5 2.5 1.5 1 2 0 1 -0.5 1.5 -2 1 -2.5 0.5 -8.5 -3 0 -0.5 5.5 -0.5 1.5 -1 0.5 -1 -1 0 -1 -0.5 -5.5zM174 70l-2 2.5 -1 1.5 0.5 2 1 1 2 1 3 0.5 2 0 2 -1 1 -1.5 0 -2 -0.5 -2.5 -0.5 -2 -2 -1 -2 -0.5zM115.5 71.5l-4 7 -7 3 -1.5 2.5 -1 2.5 -1.5 11.5 0.5 2.5 2 4 1.5 2 2 1 2 0 2 -2 1.5 -3 1 -6.5 3.5 -10.5 1.5 -1.5 3.5 -3 1.5 -3 0.5 -3 -0.5 -2.5 -2 -3.5 -2 0zM121 72.5l0.5 3.5 -0.5 3 -2 1.5 -3 0 -0.5 -0.5 -0.5 -2 1 -4 1.5 -1.5 1.5 -0.5zM112.5 81.5l1.5 1 0 1 0 6.5 -4 12.5 -1.5 2 -2 0 -2 -1 -0.5 -1 -1 -3 -0.5 -8.5 0.5 -4.5 1.5 -3 2 -1.5 3 -0.5zM80 70.5l6 2 1 0.5 1 2 0 5 -2 6.5 0 3 2 7.5 0.5 3.5 -1 4 -3 8.5 -2.5 1.5 -5 0.5 -2 4.5 8 0 3 -1.5 1 -2 1.5 -8 2 -7.5 0 -2.5 -2.5 -8.5 1 -10.5 -0.5 -5 -2 -2 -5.5 -2 -1.5 -1zM718 93.5l-2 2.5 -3 5.5 -1.5 1.5 -6 2.5 -1.5 2 -2.5 5.5 -7 5 -6 7.5 -2 0.5 -1.5 -0.5 -3.5 -6 -4 -3.5 -3 -0.5 -3 1 -2 2 -2 3 -0.5 3 -0.5 8.5 -0.5 1.5 -1 2 -2.5 1 -7 2.5 -8.5 1.5 -9.5 2.5 -2 1 -2.5 3.5 -2 1.5 -6.5 2 -9.5 4.5 -2 3 -6 13 -7.5 4.5 -5.5 6.5 -4 1 -9.5 0 -1.5 -1 -1 -1.5 0.5 -3 4.5 -3.5 1 -3 0.5 -10.5 -0.5 -2.5 -0.5 -2 -1 -1 -2.5 -1 -7.5 -2 -9 -1 -6 -1.5 -2.5 -1.5 -1 -1.5 -1.5 -5 -1 -1.5 -2 -1.5 -4.5 -2 -2 -1.5 -4.5 -9.5 -2 -6.5 -1 -2 -6 -3.5 -3.5 -6 -2.5 -2 -1 3 2.5 4.5 0 5 1.5 2 2 5.5 7 4.5 1 2.5 1.5 5 2 2.5 5.5 2.5 2 1 2 6 2 2.5 3.5 1.5 15.5 2 2.5 1.5 1 2 0.5 3.5 0 6.5 -2.5 12.5 -1 2 -5.5 2.5 -3 3 -1.5 4 -1 6.5 0.5 4 1 2.5 3 2.5 2 0.5 3 0 2.5 -1 1 -2 2 -15 1 -3 1.5 -1 2.5 0 12 -0.5 4 -1 2.5 -2 4 -4.5 4.5 -2.5 3 -2 1.5 -2.5 3.5 -7 9.5 -9.5 18 -7 6 -5 16 -4.5 3.5 -2 2 -2 1 -2 0.5 -2.5 0.5 -7.5 0.5 -2 1 -1.5 2 -0.5 2 1 1 2 2 4.5 2.5 2.5 3.5 1 4 -0.5 2 -1 1.5 -2 2 -5.5 1 -1.5 7 -4.5 5.5 -7.5 5.5 -2 2 -1.5 1 -2 1.5 -4.5 2 -2 3 -1 8.5 1 3 1 1.5 2 5 -0.5 -1.5 -3.5 -1.5 -1 -1.5 -1 -14.5 -2.5 -2.5 0.5zM570.5 193l1 7 0 5.5 -1 2.5 -3 0.5 -2 -0.5 -1 -1.5 -0.5 -1.5 0 -3 2.5 -8.5 2 -1.5 1 0zM507 106l-19 0 -2 0.5 -2 0.5 -1 2 -1.5 7.5 -2 7 -1.5 2 -2.5 1 -22.5 5 -24.5 0.5 -5 1 -1 1 -1 1.5 -3.5 12.5 -2 2 -3.5 0.5 -25 0.5 -8.5 2.5 -1.5 1 -2 2 -1 2 -0.5 2.5 0 18 -1 4 -2 2 -6 2 -3 2 -2 3.5 -2 5.5 -5.5 5 -1 2.5 0 2 1 2 7 4.5 4.5 8 7.5 4.5 1.5 2 0.5 2 0.5 10 -2.5 11.5 0 13.5 -1 16 0.5 12 1 10.5 1.5 6.5 0 3.5 12.5 3.5 8 2 -1.5 -3 -4 -0.5 -2 -1.5 -3.5 -5.5 -5.5 -5 -1 -3 -2.5 -10 0 -14.5 2 -11 0.5 -12.5 1.5 -3.5 5 -4 1.5 -3 1 -6.5 -1 -7.5 -1.5 -3 -6.5 -3.5 -1.5 -2 -2 -5 -1.5 -1.5 -5.5 -2.5 -2 -1.5 -1 -2 -0.5 -2 1.5 -10 1 -2 1 -1.5 2 -1 5.5 -1 6.5 -2 3 -2 1.5 -2 1 -5 0 -17 1 -3.5 2 -2 3 -0.5 21 -0.5 4.5 -0.5 2 -1 2 -2 2 -3 2 -6 1.5 -1 2 -1 10.5 -0.5 11 -2 13.5 2 2.5 -1 4 -5.5 3 -1.5 12 -2.5 11.5 -0.5 4 -1 2 -2.5 1.5 -5 -0.5 -4 2.5 -6zM88.5 164l-6.5 0.5 3.5 3.5 8 -0.5 1.5 0.5 1.5 1 1 1.5 3 8.5 1 8.5 3.5 2 -0.5 -8.5 -3.5 -11.5 -1.5 -2.5 -2.5 -3 -2 -1 -1.5 0zM104 196l8 7 4.5 6 0 -3.5 -1 -2.5 -3 -3.5 -6 -3.5 -0.5 -0.5 -1 -2 0 -3 -1 2.5z"/><path fill="#c6ff33" stroke="#c6ff33" d="M211 46l0.5 5.5 0 1 1 1 1 -0.5 0.5 -1.5 0.5 -5.5zM116 74l-1 3 0.5 3 1.5 0.5 3 -0.5 1 -1 0.5 -2 0 -2 -0.5 -2.5 -2 -0.5 -2 1zM80 72l5 1 1 1 1 2 -0.5 4 -0.5 2.5 -2 2 -2 1 -1 8.5 2 0.5 2 2 0.5 4 -1.5 3.5 -2 1.5 -2 0.5 -3 9 5 -0.5 2 -1 1 -1.5 2.5 -7.5 1 -4 -0.5 -3.5 -2 -7.5 0 -3 2 -6.5 0 -5 -1 -2 -1 -0.5 -6 -2zM106.5 82l-2 1.5 -1.5 3 -0.5 3.5 0 7 0.5 3 1 2.5 1.5 1.5 2 0.5 2 -1 1 -2 3.5 -11.5 0.5 -5.5 -0.5 -2 -1 -0.5 -3.5 -0.5zM110 83.5l1.5 1 0.5 1 0.5 2 0 2.5 -4 8.5 -1 1 -1 0.5 -1 -1.5 -1.5 -4.5 -0.5 -4 0.5 -2.5 1.5 -3 2 -1zM97 180l1 5.5 1.5 1.5 2 0.5 -1 -8.5 -3 -8.5 -1 -1.5 -1.5 -1 -1.5 -0.5 -8 0.5 4.5 4 1 3.5 4.5 1.5zM113 204.5l-1.5 -2 -2 -1zM719.5 99l-1.5 4.5 -1 2 -2 1.5 -5.5 2 -5.5 7.5 -7 4.5 -1 1.5 -2 5.5 -2.5 2.5 -4 1 -2.5 -0.5 -2 -0.5 -2.5 -2.5 -2 -4.5 -1 -2 -1 -0.5 -2 -0.5 -1.5 1 -1 2 -1 11 -1 2 -2 2 -3.5 2 -16 4.5 -6 5 -18 7 -9.5 9.5 -3.5 7 -1.5 2.5 -3 2 -4.5 2.5 -4 4.5 -2.5 2 -4 1 -12 0.5 -2.5 0 -1.5 1 -1 3 -2 15 -1 2 -2.5 1 -3 0 -2 -0.5 -3 -2.5 -1 -2.5 -0.5 -4 1 -6.5 1.5 -4 3 -3 5.5 -2.5 1 -2 2.5 -13.5 0 -7.5 -1 -2.5 -1.5 -1.5 -1.5 -1 -15.5 -2 -3.5 -1.5 -2 -2.5 -2 -6 -2 -1 -4.5 -2 -2 -1.5 -3.5 -8.5 -6.5 -5 -2.5 -5.5 -1.5 -2 -0.5 4.5 -3 4.5 -4.5 4.5 -6 1.5 -1 0 -3 -4 -2 -6 -1 -3.5 -1.5 5 -2 2.5 -4 1 -11.5 0.5 -12 2.5 -2.5 1.5 -3.5 4.5 -2.5 2 -3 0 -7.5 -1.5 -4 -0.5 -11 2 -8.5 0.5 -3 0.5 -2 1 -1 1.5 -1.5 5 -2 3 -2 2 -3 1 -3.5 0.5 -19 0 -5 1 -2 2 -1 2.5 0 18 -1 5 -1.5 2 -3 2 -6.5 2 -5.5 1 -2 1 -1.5 2.5 -2 10.5 0.5 2.5 1 2 2 1.5 5.5 2.5 1.5 1.5 2.5 6 2 1.5 5.5 3 1.5 2 0.5 3 0.5 8.5 -1 3.5 -1.5 3 -5 4 -1 2.5 -1 14.5 -2 9 0 16.5 2.5 9 1 3 5.5 5 3.5 5.5 2 1.5 4 0.5 -2.5 -7.5 0.5 -3 -3 -2 -4 -5.5 -4.5 -4.5 -1 -2 -0.5 -4 0 -12.5 1.5 -2.5 3.5 -6 1 -7.5 2 -6.5 1.5 -2 1.5 -1.5 6.5 -4 2 -3 0.5 -2.5 -0.5 -22 -0.5 -2 -1.5 -2 -1.5 -1 -5.5 -2.5 -1.5 -2 -1 -2 0 -3.5 0 -7 0.5 -2.5 1.5 -3 3 -1.5 3 -0.5 9.5 -0.5 1.5 -1 2 -1 1.5 -2 0.5 -2 0.5 -11.5 1.5 -3.5 2 -1.5 4.5 -2 2 -1.5 4.5 -5.5 2 -2 2 -1 3 -0.5 14 0 0.5 -0.5 0.5 -5.5 1.5 -2 2 -1 4 0 1.5 1 1 2 0 2 -1 2 -2.5 1.5 -6.5 0.5 -0.5 0.5 0.5 4 1.5 3 2 1 3 0.5 12.5 -1.5 3 -1 2.5 -4 2 -1.5 2.5 -0.5 2 0.5 2 1.5 1 2 2 7.5 2 8.5 1.5 2 2 0.5 11.5 -2 2 -0.5 1.5 -1.5 1.5 -3 0.5 -11.5 1 -2 2 -1.5 3.5 -0.5 8 -0.5 13 0 5 1 1.5 1.5 4 6.5 2 1.5 3.5 2 2 1.5 2.5 5.5 1.5 2 1.5 1.5 5 2 2 2 0.5 2 -1.5 3 -2 2 -5.5 3.5 -2 3 -0.5 7.5 0 3 1 1.5 2 2 9.5 4 4 1 3 -0.5 2 -0.5 2 -2 2.5 -12 1 -3 1.5 -2 3 -1 11.5 -0.5 8.5 -4.5 5 -1.5 2.5 -2 7.5 -8 3 -7 1.5 -2 2.5 -2 6.5 -3 6.5 -4.5 9.5 -2 5.5 -2 3 -2 4 -4.5 6.5 -3 6.5 -4 4 -1.5 7.5 0 5 -1 5.5 -0.5 7.5 -1.5 0.5 -8.5 1 -3.5 5 -8.5 3.5 -4 5.5 -3.5 7 -1 4.5 -3.5 8.5 -2 -1 -1 -1.5 -1.5 -8.5 -1 -4.5 0z"/><path fill="#ffff00" stroke="#ffff00" d="M80.5 73.5l4 1.5 1 2 -0.5 3 -1 1 -2.5 1 0.5 3.5 2 -1 2 -2 0.5 -2.5 0.5 -3 -0.5 -2 -1.5 -2 -5 -1zM105.5 84.5l-1.5 3 0 4.5 1.5 6.5 1 1.5 1 -0.5 1 -1 3 -6.5 1 -2.5 0 -3 -1 -2 -1.5 -1 -2.5 0zM109.5 86l1 1.5 0 2.5 -1 2 -2 1.5 -1 -0.5 -1 -1.5 0 -4 1 -1 1 -0.5zM80 106l2 -0.5 2 -1.5 1.5 -3.5 -0.5 -4 -2 -2 -2 -0.5 -0.5 4.5zM98 185.5l-0.5 -3.5 -1 -2 0 2zM706 118.5l-3 5 -1 11 3.5 -1 1 -5.5 -2 -2 -0.5 -0.5 2 -3.5 1.5 -1.5zM684 137.5l-7.5 0 -3 1 -7.5 4.5 -6.5 3 -4 4.5 -3 2 -5.5 2 -9.5 2 -6.5 4.5 -6.5 3 -2.5 2 -1.5 2 -3 7 -7.5 8 -2.5 2 -5 1.5 -8.5 4.5 -11.5 0.5 -3 1 -1.5 2 -1 3 -2.5 12 -2.5 2 -2.5 1 -3 -0.5 -3 -0.5 -9.5 -4 -2 -2 -1 -1.5 0 -3 0.5 -7.5 2 -3 5.5 -3.5 2 -2 1.5 -3 -0.5 -2 -2 -2 -5 -2 -1.5 -1.5 -1.5 -2 -2.5 -5.5 -2 -1.5 -3.5 -2 -2 -1.5 -4 -6.5 -1.5 -1.5 -5 -1 -13 0 -8 0.5 -3.5 0.5 -2 1.5 -1 2 -0.5 11.5 -1.5 3 -1.5 1.5 -2 0.5 -11.5 2 -2 -0.5 -1.5 -2 -2 -8.5 -2 -7.5 -1 -2 -2 -1.5 -2 -0.5 -2.5 0.5 -2 1.5 -2.5 4 -3 1 -12.5 1.5 -3 -0.5 -2 -1 -1.5 -3 -0.5 -4 0.5 -0.5 6.5 -0.5 2.5 -1.5 1 -2 0 -2 -1 -2 -1.5 -1 -4 0 -2 1 -1.5 2 -0.5 5.5 -0.5 0.5 -14 0 -4 1 -3 2.5 -4.5 5.5 -2 1.5 -4.5 2 -2 1.5 -1.5 3.5 -0.5 11.5 -0.5 2 -1.5 2 -2 1 -1.5 1 -9.5 0.5 -3 0.5 -3 1.5 -1.5 3 -0.5 2.5 0 7 0 3.5 1 2 1.5 2 5.5 2.5 1.5 1 1.5 2 0.5 2 0.5 22 -0.5 2.5 -2 3 -7.5 4.5 -2 4 -2 5.5 -1 7.5 -4 7 -1 2.5 0 11.5 1 5 5 5.5 3 4.5 4 3 0 -4.5 2 -4.5 -3 -0.5 -2 -1 -2 -2 -2 -2.5 -0.5 -6 0.5 -9.5 3.5 -7.5 2 -6.5 1.5 -1.5 5 -3 4.5 -7 6.5 -4.5 2 -3 0.5 -2.5 0 -9.5 -3 -14.5 -1.5 -2.5 -5 -5 -1 -2 0 -1.5 1.5 -3 6.5 -4 5 -7.5 4.5 -3 2 -1.5 1.5 -8.5 2.5 -8 1.5 -2.5 3 -2 6.5 -2 5 -0.5 3.5 0.5 6 2.5 2.5 1 11.5 -2 9.5 0 3 0.5 1.5 1 1 2 2 9.5 2.5 6.5 2.5 2.5 2.5 1 2 -0.5 2 -1 3 -4 2 -2 12 -4.5 6.5 -2 2 -2 2 -4.5 1.5 -1.5 2 -0.5 4 -0.5 6.5 0 3 0.5 2 1 1.5 2 2.5 5.5 1.5 2 4.5 2.5 2 1.5 1.5 2.5 -0.5 2.5 -2 2.5 -3.5 1 -19 0 -5 1 -1.5 1.5 -2 3 0 2.5 1 2 1.5 1.5 6 2.5 1.5 2 2.5 4.5 1.5 1.5 2 1 3 0.5 6.5 -1.5 3.5 0 20 4 6 0 2.5 -1 2 -1.5 1.5 -8.5 2.5 -3.5 2.5 -1 9.5 -0.5 4 -1 4.5 -4.5 1.5 -1 6 -2 8.5 -4 2.5 -2.5 6 -13.5 1.5 -1.5 13 -6 0.5 -2 4.5 -3 1.5 0.5 1.5 4 -0.5 0.5 5 0 -2.5 -4.5 0.5 -1 1.5 0 3.5 3 3.5 -5.5 1.5 -1.5 5 -2.5 3.5 -5 2.5 -2.5 2.5 -1 3 -0.5 0.5 -1z"/><path fill="#ffc600" stroke="#ffc600" d="M80.5 76.5l1 0.5 -1 1 1 4 2.5 -1 1 -1 0.5 -3 -0.5 -2 -1 -0.5 -3.5 -1zM105.5 88.5l0 1.5 0.5 2 1.5 1.5 1 -0.5 2 -3 0 -1.5 -0.5 -2 -1.5 -1 -1 0.5 -1 0.5zM706.5 128l-0.5 3 -0.5 2.5 2.5 0 0 -1 1 -1 -1 -2.5zM676.5 141l-3 0.5 -2 1 5 -1zM670.5 143l-2 2 -3.5 5 -5.5 3 -3 3.5 -1.5 3 4 4 2.5 -6 1.5 -1.5 4 -1.5 1 -5.5 0 -2.5zM651.5 162l-4.5 0 -2.5 5 10 -0.5zM638 163l-11 4.5 -1.5 1.5 -6 13 -2 3 -9.5 4.5 -6 2 -1.5 1 -4.5 4.5 -3 1 -9.5 0.5 -3 0.5 -1.5 1.5 -1 2 -2 9 -3 2 -3.5 0.5 -5 -0.5 -19 -3.5 -3.5 0 -6.5 1.5 -3 -0.5 -2 -1 -1.5 -1.5 -2.5 -4.5 -1.5 -2 -6 -2.5 -1.5 -1.5 -1 -2 0 -2.5 2 -3 1.5 -1.5 5 -1 19 0 3.5 -1 2 -2.5 0.5 -2.5 -1.5 -2.5 -2 -1.5 -4.5 -2.5 -1.5 -2 -2.5 -5.5 -1.5 -2 -2 -1 -3 -0.5 -6.5 0 -4 0.5 -2 0.5 -1.5 1.5 -2 4.5 -2 2 -6.5 2 -12 4.5 -2 2 -3 4 -2 1 -2 0.5 -2.5 -1 -2.5 -2.5 -2.5 -6.5 -2 -9.5 -1 -2 -1.5 -1 -3 -0.5 -9.5 0 -11.5 2 -2.5 -1 -6 -2.5 -3.5 -0.5 -5 0.5 -6.5 2 -3 2 -1.5 2.5 -2.5 8 -1.5 8.5 -2 1.5 -4.5 3 -5 7.5 -6.5 4 -1.5 2 0 2.5 1 2 5 5 1.5 2.5 3 14.5 0 10 -1 3 -1.5 2 -6.5 4.5 -4.5 7 -5 3 -2 2 -1.5 6 -3 7 -1 2.5 0 9.5 1 5 1.5 1.5 2 2 2 1 3 0.5 1 -1.5 4.5 -4 9.5 -5 -3 -2.5 -1.5 -0.5 -2 0.5 -2 1.5 -3 5.5 -2.5 1 -3 0 -2 -2 -0.5 -2 -0.5 -6.5 0.5 -5 1 -1.5 1.5 -2 5.5 -4 2.5 -5.5 1.5 -2 6.5 -4.5 5 -7 6.5 -3.5 2 -3 1 -4.5 0 -7 -0.5 -3.5 -1.5 -3 -5 -2.5 -1.5 -2 -3 -12.5 0.5 -3 0.5 -1.5 2 -2 1.5 -1 3 0 3 2 2 5.5 2 2 1.5 0.5 2 0.5 2 -0.5 1.5 -1.5 1 -2 0.5 -2.5 0 -9 -0.5 -3 -1.5 -3.5 -5 -2.5 -1 -2 -0.5 -3 0.5 -2 1 -1.5 5.5 -4 2.5 -5 2.5 -1.5 3 -0.5 2.5 0.5 2 1.5 3 5 1.5 1.5 2 0.5 2 -0.5 2 -0.5 3 -5 2.5 -1.5 4 -0.5 2.5 0.5 2 1.5 0.5 2 0.5 9.5 0.5 3 1.5 2 6.5 3.5 1.5 2 2.5 5.5 2.5 2 3 0 3 -1 1.5 -2 2 -5 2.5 -2.5 3.5 -1 3.5 0 0.5 1 0.5 16 1 4 2 1.5 2 0.5 10 0.5 4 1 2.5 2 3 4.5 2 1.5 3 0.5 3 -0.5 1.5 -1.5 4 -4 3 -1 2.5 0 24 2.5 2 1 3.5 4.5 2 1 1.5 0 3 -0.5 2 -1 0.5 -2 0.5 -2 -0.5 -2 -0.5 -2 -5 -3.5 -0.5 -3 0.5 -3 1 -1 3 -0.5 9.5 0.5 3 1.5 2.5 4.5 2 1.5 4 0.5 2.5 -1 1.5 -2 0.5 -2 1 -10.5 1 -2.5 2 -2 5.5 -1.5 3 -2.5 3.5 -8.5 1 -1 3 -1.5 -1.5 -3.5 4.5 -8zM510.5 179.5l2.5 0.5 1.5 1.5 0 2.5 -1 1.5 -2 1.5 -1.5 1 -6 0 0 -3 1 -3 2.5 -2z"/><path fill="#ffa000" stroke="#ffa000" d="M80.5 78l1 -1 -1 -0.5zM506 181l-2 3 0 3 0 1 4 0 2.5 -0.5 3 -1.5 1 -2 0 -2.5 -2 -1.5 -3.5 0zM667 155l-4 1 -1.5 1.5 -2.5 6 5 -4.5zM654.5 166.5l-10 0.5 1.5 5.5 2.5 4 -0.5 6.5 1.5 -1.5 6 -10.5 -0.5 -3.5zM630 176.5l-3 1.5 -1 1 -2.5 7 -2 2.5 -2 1.5 -5.5 1.5 -2 2 -1 2.5 -1 11 -1 2.5 -2 1.5 -3.5 0.5 -2.5 -1 -1.5 -1 -2.5 -4.5 -3 -1.5 -9.5 -0.5 -3 0.5 -1 1 -0.5 3 0.5 3 5 3.5 0.5 2 0.5 2 -0.5 2 -0.5 2 -2 1 -3 0.5 -1.5 0 -2 -1 -3.5 -4.5 -2 -1 -24 -2.5 -2.5 0 -3 1 -4 4 -1.5 1.5 -3 0.5 -3 -0.5 -2 -1.5 -3 -4.5 -2.5 -2 -4 -1 -10 -0.5 -2 -0.5 -2 -1.5 -1 -4 -0.5 -16 -0.5 -1 -3.5 0 -3.5 1 -2.5 2.5 -2 5 -1.5 2 -3 1 -3 0 -2.5 -2 -2.5 -5.5 -1.5 -2 -6.5 -3.5 -1.5 -2 -0.5 -3 -0.5 -9.5 -0.5 -2 -2 -1.5 -2.5 -0.5 -4 0.5 -2.5 1.5 -3 5 -2 0.5 -2 0.5 -2 -0.5 -1.5 -1.5 -3 -5 -2 -1.5 -2.5 -0.5 -3 0.5 -2.5 1.5 -2.5 5 -5.5 4 -1 1.5 -0.5 2 0.5 3 1 2 5 2.5 1.5 3.5 0.5 3 0 9 -0.5 2.5 -1 2 -1.5 1.5 -2 0.5 -2 -0.5 -1.5 -0.5 -2 -2 -2 -5.5 -3 -2 -3 0 -1.5 1 -2 2 -0.5 1.5 -0.5 3 3 12.5 1.5 2 5 2.5 1.5 3 1 7.5 -1 6.5 -1 2 -1.5 2 -6.5 3.5 -5 7 -6.5 4.5 -1.5 2 -2 4.5 -1.5 2 -3.5 2 -2 2 -1 1.5 -0.5 4 0 7.5 0.5 3 2 2 2 0 1.5 0 2 -1.5 3 -5 2 -1.5 2 -0.5 1.5 0.5 3 2.5 8 -4 -4 -2 -1.5 -2 -0.5 -2 -0.5 -8.5 1 -4.5 2.5 -3 6.5 -3.5 4.5 -7 7 -4.5 1 -2 2 -4.5 1.5 -2 3 -1.5 15 -3.5 2.5 -1.5 2 -4 3 -2 16.5 -3.5 2 -2 2.5 -5 2.5 -1.5 3 0 3 1 1.5 1.5 1.5 4 2.5 2 12.5 2.5 13 1 11.5 2 4.5 -0.5 7 -1.5 2.5 0.5 3 1.5 3 5 2.5 1 13.5 2.5 11.5 0.5 3.5 1 2 1.5 2.5 4.5 1 1 3 -3 7 -3 6 -4 3.5 -5 6.5 -4 6 -1 2.5 -3 7.5 -5 6.5 -1 -1 -1.5 1 -7 -3 -5 7.5 -6.5 4 -1 -1.5 -3.5 -2 -1 -1.5 0 -6.5 -3 -5.5 -3.5 3.5 -1.5z"/><path fill="#ff7c00" stroke="#ff7c00" d="M589 243.5l-3.5 -5.5 -2 -1.5 -3.5 -1 -11.5 -0.5 -13.5 -2.5 -2.5 -1 -3 -5 -3 -1.5 -2.5 -0.5 -7 1.5 -4.5 0.5 -11.5 -2 -13 -1 -12.5 -2.5 -2.5 -2 -1.5 -4 -1.5 -1.5 -2 -1 -3 0 -1.5 0.5 -2 1 -2.5 5 -2 2 -16.5 3.5 -3 2 -2 4 -2.5 1.5 -15 3.5 -3 1.5 -1.5 2 -2 4.5 -1 2 -7 4.5 -4.5 7 -6.5 3.5 -2 2 -1 2 -0.5 2.5 0.5 9.5 0.5 2 1.5 2 4 2 7 -4.5 -1 -3 0 -6 0 -3.5 1 -2.5 2 -2.5 5 -2 1.5 -1.5 3 -5.5 2 -2 6.5 -3 1.5 -2 2 -4 1.5 -1 2.5 -1.5 14.5 -3 2.5 -2 2.5 -3.5 2 -2 12.5 -3 4 0 12.5 3 2 2 3.5 4.5 3 1 35 0.5 15 3 3 1.5 2 4.5 1.5 2 3 1 12 0.5 4.5 1 1.5 -3z"/><path fill="#ff1900" stroke="#ff1900" d="M585 249l-4.5 -1 -10 -0.5 -3 -0.5 -3 -1.5 -2 -5 -2.5 -1.5 -13.5 -3 -4.5 -0.5 -33 -0.5 -3 -1 -3.5 -4.5 -2 -2 -12.5 -3 -4 0 -12.5 3 -2 2 -2.5 3.5 -2.5 2 -15.5 3.5 -2.5 1.5 -2.5 4.5 -1.5 2 -6.5 3 -2 2 -3 5.5 -1.5 1.5 -4.5 2 -2 2 -1 2 -0.5 2.5 0 8.5 1 2.5 5 -3.5 13.5 -2 8.5 2 10.5 2 6 2 17.5 3 3 -1 -2.5 -5.5 -0.5 -4 1.5 -3 3 -2 5 -0.5 8 0 1 -3.5 1 -0.5 1 0.5 2.5 4.5 3 0 12 -1.5 6 2 5 2.5 3.5 3.5 4 -1.5 0 -3 17 0 3.5 5 7 5 3 23 6 1 4 8.5 0 5 8 10.5 3.5 -0.5 3 -8.5 -0.5 -6.5 -3.5 -12 -3.5 -8.5 -4 -13.5 -1 -2 -2 -7.5 -0.5 -4.5 1.5 -6.5z"/></g>
<g clip-path="url(#us)" fill="none" stroke-linecap="round" stroke-linejoin="round">
<path d="M104.3 149.2L106.1 150.9L112 158.6L116.8 165.1L122.7 172.2L129.8 179.9L135.7 188.2L138.1 192.9L141.6 197.7" stroke="#6370f8" stroke-width="10"/>
<path d="M104.3 149.2L106.1 150.9L112 158.6L116.8 165.1L122.7 172.2L129.8 179.9L135.7 188.2L138.1 192.9L141.6 197.7" stroke="#7f96ff" stroke-width="7"/>
<path d="M104.3 149.2L106.1 150.9L112 158.6L116.8 165.1L122.7 172.2L129.8 179.9L135.7 188.2L138.1 192.9L141.6 197.7" stroke="#b5c9ff" stroke-width="4.5"/>
<path d="M112 158.6L116.8 165.1L122.7 172.2L129.8 179.9L135.7 188.2" stroke="#d6e2ff" stroke-width="2"/>
<path d="M546.2 212.4L554.5 208.3L562.8 203.6L572.2 197.7L582.9 191.7L592.3 184.6L600.6 177.5L605.3 171.6" stroke="#c6ff33" stroke-width="12" stroke-opacity="0.85"/>
<path d="M546.2 212.4L554.5 208.3L562.8 203.6L572.2 197.7L582.9 191.7L592.3 184.6L600.6 177.5L605.3 171.6" stroke="#63ff00" stroke-width="7"/>
<path d="M546.2 212.4L554.5 208.3L562.8 203.6L572.2 197.7L582.9 191.7L592.3 184.6L600.6 177.5L605.3 171.6" stroke="#00c633" stroke-width="3.5"/>
</g>
<g fill="#fff"><rect x="246" y="45" width="6.5" height="3.5"/><rect x="260.5" y="45" width="6.5" height="3.5"/><rect x="264.5" y="185.5" width="6" height="5.5"/></g>
<path fill="#63ff00" d="M213 130.5l-6 1 -0.5 0 -0.5 0.5 -0.5 0 0 0.5 -3 3.5 0 0.5 -0.5 0 0 0.5 0 0.5 0 0.5 0.5 0 0 0.5 0.5 0.5 2 2 0.5 0.5 4.5 3 0.5 0 0.5 0.5 6 1 0.5 0 0.5 0 0.5 0 0 -0.5 0.5 0 0 -0.5 3 -3.5 0.5 -0.5 0 -0.5 0 -0.5 0 -0.5 -0.5 0 -1.5 -4 -0.5 0 0 -0.5 -5.5 -4 0 -0.5 -0.5 0 -0.5 0 -0.5 0z"/>
<path fill="#ffc600" d="M213 131.5l-6 1 -0.5 0 0 0.5 -3 3.5 -0.5 0.5 0 0.5 0 0.5 0.5 0 2.5 2.5 5 3 0 0.5 6 1 0.5 0 0.5 0 0 -0.5 3 -3.5 0.5 0 0 -0.5 0 -0.5 0 -0.5 -2 -3.5 -0.5 0 -5 -4.5 -0.5 0 -0.5 0z"/>
<path fill="#ff7c00" d="M213 132l-6 1.5 -3 3.5 0 0.5 2.5 2.5 4.5 3 0.5 0 5.5 1 0.5 0 3 -3.5 0 -0.5 -1.5 -3.5 -5.5 -4 0 -0.5 -0.5 0z"/>
<path fill="#ff1900" d="M213 133.5l-5.5 1 -2 3 1.5 1.5 4.5 3 5.5 1 2.5 -3 -1.5 -3z"/>
<path d="M77.7 78.8L84.8 79.6L88.4 81.1L92.2 85.9L98.4 87L107.3 85.3L114.4 85.9L122.7 84.7L133.3 82.5L136.9 82.1L137.1 81.7L161.5 81.7M160.2 46.2L160.1 76.8L161.5 81.7M161.5 81.7L166.8 86.5L164.1 91.2L160.5 95.9L158.2 100.6L160.5 102.4L160.2 107.7L160.2 129M75.1 129L230.9 129M171.8 46.2L171.8 58.3L175.7 62.8L180.7 66.3L185.4 70.5L188.9 74L190.4 79.4L191.3 84.7L196 87.6L202.5 93.5L207.3 98.3L210.2 100.6L215.5 99.5L225.6 98.9L226.8 96.5L230.9 99.5M230.9 93.5L230.9 140.9L254.6 140.9M230.9 93.5L313.7 93.5M313.7 46.2L313.7 140.9M254.6 140.9L337.4 140.9L337.4 152.7M195.4 129L195.4 188.2L195.4 198.8M254.6 140.9L254.6 255.3M195.4 188.2L425.3 188.2M337.4 152.7L337.4 188.2M125.1 129L125.1 164.5L188.6 211.8M195.4 198.8L187.7 199.4L188.3 205.9L188.6 211.8L191.3 216.6L194.3 220.1L190.1 224.9L187.7 230.8L190.1 235.5L187.5 238.8M326.2 188.2L326.2 194.1L325.5 247.3L283.3 247.3L284.4 249.9M326.2 194.1L361.6 194.1L361.6 217.1L366.4 218.9L371.1 221.3L378.2 222.5L384.1 224.9L391.2 226.6L398.3 225.5L404.2 226L411.3 225.5L418.4 228.4L426.7 227.8L432.2 229M425.3 188.2L425.3 194.1L427.5 207.1L427 227.8M432.2 229L432.2 247.5L435.6 252.1L437.4 256.8L438 261.5L435.9 267.5L434.4 274M313.7 117.2L379.4 117.2L387.7 119.6L394.8 119L400.1 120.2L403.6 123.1M337.4 152.7L417.3 152.7M403.6 123.1L406.6 129L409.6 135L410.5 140.9L411.7 145.8L417.3 152.7L422 155.7L421.4 159.8L425.5 163.3L425.3 188.2M313.7 82.4L402.3 82.4M394.4 46.2L395.4 52.1L396 58.1L398.7 64L399.2 69.9L401.9 77L402.3 82.4L400.1 86.5L403.6 90L403.6 111.3L403.1 117.2L403.6 123.1M403.6 111.3L465.5 111.3M411.7 145.8L459.5 145.6L463.2 148.2M455.1 73.2L452.7 74L452.7 80.5L446.8 84.1L448 88.8L446.8 96.5L452.7 98.3L457.5 103L464.6 107.7L465.5 111.3L466.3 117.2L471.7 120.8L472.4 123.1L477.6 131.4L474 135L468.1 136.1L466.9 143.2L463.2 148.2L462.8 153.9L469.3 159.8L477 165.7L477.6 169.3L480.5 177.5L485.9 181.1L485.9 184.6L490 188.2L485.9 192.9L484.7 197.7L483.5 201.2L478.8 207.1L477 211.8L472.9 217.8L468.7 223.7L466.9 229.6L466.3 235.5L468.1 241.4L465.8 247.3L462.2 252.1L460.7 259.2M425.3 194.1L478.2 194.1L475.6 200L483.5 200M432.2 235.5L466.3 235.5M460.7 259.2L483.1 259.2L482.9 263.9L484.7 268.6M501.2 211.8L502.4 213L498.3 259.2L498.9 266.3M477 211.8L547.4 211.8L561.6 211.8M532 211.8L537 237.3L539.3 243.8L537.9 252.1L539.1 259.2M508.3 259.2L539.1 259.2L540.8 262.7L556.8 263.9L572.2 264.5L574.6 262.1L581.1 262.7M508.3 259.2L509.5 267.5M485.9 194.1L503 194.1L503 192.3L554.5 192.9L578.1 192.9L647.1 193.5M554.5 192.9L561.6 188.8L571 184.6L574.9 182.3M578.1 192.9L575.8 196.5L569.9 200L560.4 203.6L552.1 205.9L547.4 211.8M490 188.2L497.7 186.4L502.4 182.3L503 178.7L508.3 177.5L515.4 177L520.2 177.5L523.7 174.6L527.9 176.4L530.2 172.8L534.4 168.1L540.9 167.5L541.2 163.3L548.6 166.9L555.7 168.1L562.8 169.3L567.5 171.6L572.2 168.1L574.6 164.5L580.5 161L586.4 157.4L589.4 152.7L592.1 145.1M567.5 171.6L569.3 177.5L574.9 182.3M509.2 131.9L509.2 161L508.9 168.1L504.2 174L503 178.7M472.4 123.1L506 123.1M517.6 131.9L541.5 131.9L557.4 132.6M541.2 132.6L541.2 163.3M592.1 145.1L592.1 129M592.1 129L653.3 129L656.2 131.4L660.9 136.7L658 140.9L655 145.6L658.6 149.2L657.4 152.7L653.3 154.5M592.1 156L648.1 156L649.1 171L656.8 171M592.1 156L592.1 145.1M604.4 156L604.4 162.2L610.1 159.2L617.2 156.8L623.1 158L624.9 160.4L632.6 165.1L630.8 169.3L633.7 172.8L642 177M624.9 160.4L617.8 164.5L612.4 169.3L605.3 172.2L598.8 177.5L592.3 182.3L584.1 184.6L574.9 182.3M561.6 209.5L571 209.5L585.8 210.1L588.8 214.2L602.2 214.2L615.4 225.5M561.6 211.8L565.1 216.6L571 223.7L575.8 228.4L580.5 234.3L585.2 241.4L587.6 246.7M660.9 136.7L670.4 141.1M676.9 93.5L676.3 105.4L677.5 110.7L677.9 120.2L675.1 128.4L675.1 137.3L673.4 140.9M698.8 93.5L698.2 97.1L694.7 101.8L691.1 107.7L688.2 113.7L687.4 120.4M677.9 120.4L701.2 120.4L706.8 118.7M675.1 128.7L700.2 128.8L703.3 135M695.3 128.8L694.7 137.3M703.8 90L704.7 100.6L705 110.1L708 116M159.1 241.1L172.4 240L187.5 238.8L186.4 241.5L230.7 255.3L264.5 255.3L264.5 249.9L284.4 249.9L288.3 254.4L296 259.2L303.1 263.9L306 268.6L308.4 274L312 277.5L319.1 280.5L324.4 283.1L327.9 280.5L329.7 276.9L333.8 273.4L345.1 274L350.4 277.5L354.6 284L358.1 291.1L362.8 297L367.6 302.9L369.9 308.3L372.9 313.6L379.4 316L385.9 317.7L391.8 318.9L395.4 319.5M92.5 46.2L419 46.2L423.2 46.2L425.5 49.8L433.8 51L438.5 50.4L445.6 51L455.1 53.3L462.2 54.5L470.5 56.9L481.1 57.5L484.7 58.7M752.4 95.7L748.5 91.8L746.7 86.5L742.8 82.3L742.7 69.1L736.7 65.7L729.6 64.6L725.8 64.6L716.5 73.4L713.2 79.4L707.7 87.6L703.8 90L698.8 93.5L660.4 93.5L653.3 96.5L647.3 100.6L642 104" fill="none" stroke="#b4b4b4" stroke-width="1.1" stroke-linejoin="round"/>
<path d="M69.2 53.6L69.7 56.3L70.6 59.2L73.9 65.7L76.3 70.5L77.1 74.6L77.1 78.5L78.3 82.9L78.3 87.6L77.7 93.5L76.9 98.3L76.3 105.4L74.2 112.5L71.2 119L72.8 124.3L75.1 129L76.8 135L76.3 140.9L74.8 144.4L73 147.5L76.5 151.5L79.9 156.2L80.3 161L81 165.1L85.4 169.3L89 172.8L89.9 176.4L94.9 178.1L95.5 179.3L95.5 182.3L96.7 185.8L99 188.2L101.4 188.7L103.8 190L102.6 192.9L102.6 196.5L107.3 200.6L111.4 204.8L114.8 208.3L117.4 213L117.6 216.6L119.5 218.4L125.1 218.4L129.2 218.9L133.3 220.4L135.7 222.5L139.2 223.3L142.8 223.7L144 226L145.8 227L149.9 228.4L153.4 230.8L156 233.1L157.6 236.7L158.2 239.3L159.1 241.1M395.4 319.5L393 314.8L391.2 308.9L391.8 301.8L394.2 296.4L398.9 292.3L404.2 289.3L410.2 286.4L416.7 283.4L422.6 279.3L427.9 275.7L434.4 274.5L440.9 273.7L449.2 275.7L453.9 276.3L459.8 277.5L465.8 279.9L472.9 281.1L477.6 281.6L483.5 282.8L488.2 281.1L487 278.1L485.3 274.5L484.7 271L485.9 268.9L488.2 267.2L493 266.5L497.7 266.5L501.8 266.9L503 262.7L506 267.5L509.5 267.8L516.6 266.9L521.4 266.3L527.3 268L532 270.4L535.6 274.5L540.3 272.8L546.2 271.6L549.7 270.1L553.9 272.2L558 275.7L562.2 280.5L565.7 284L566.5 288.7L565.7 294.7L567.5 299.4L568.7 304.1L571.6 308.9L574.6 313L577.5 317.1L581.1 320.7L584.6 324.8L587 327.8L592.9 327.2L594.1 323.6L596.5 319.5L597.7 312.4L597.1 306.5L594.7 300.6L591.7 294.7L591.4 289.3L588.8 285.2L586.4 280.5L583.5 274.5L581.7 267.5L581.1 262.7L582.9 256.8L584.6 252.1L587.6 246.7L592.9 241.4L599.4 238.5L605.9 234.3L609.5 229.6L615.4 225.5L621.9 224.9L624.3 221.3L631.4 216.6L638.5 215.4L643.2 211.8L650.9 208.9L652.1 204.8L649.7 200L647.1 193.5L645.6 189.4L642 187L642 182.3L642.6 177.5L640.8 172.8L640.2 165.7L640.8 161L645 158L646.2 161.6L643.2 166.9L645 172.8L647.3 177L646.2 186.4L650.3 182.3L653.9 176.4L656.8 171L656.2 166.9L652.7 161L650.9 157.4L656.2 162.2L658.6 165.1L665.1 159.8L668 155.1L669.2 149.2L669.2 146.8L672.2 145.6L681.1 145.6L689.3 142.6L694.1 140.3L687 141.5L677.5 140.9L682.2 139.1L689.3 137.6L694.7 137.3L700 136.1L703.5 135L708.9 134.7L716.5 133.8L717.1 130.2L714.8 128.4L710.6 131.4L708.9 128.4L705.3 125.5L707.1 122.5L709.5 120.8L707.1 118.4L709.5 114.8L713 110.7L717.7 107.7L724.8 106.6L729.6 103L737.8 101.2L744.9 100.1L749.7 97.7L752.4 95.7M642 104L643.2 110.1L639.7 112.5L632.6 114L625.5 114L617.2 112.8L609.5 113.7L611.3 118.4L605.9 123.1L597.1 126.7L590 129.6L578.1 135L568.7 136.1L563.9 134.4L557.4 132.6L561 128.4L561.6 125.5L564.2 123.7L565.7 120.8L569.5 117.2L568.1 110.1L563.4 104.8L558 107.2L553.9 110.1L551.5 106.6L556.8 101.8L559.2 96.5L558 93L552.1 88.2L542.6 84.1L538.5 85.9L535 90L533.2 93L525.5 96.5L523.7 103L521.4 110.1L523.7 114.8L523.7 123.1L520.8 127.9L516.6 132L510.7 133.5L508.3 130.2L506 124.3L504.8 117.2L506.9 111.3L508.3 104.2L510.7 98.3L514.8 91.2L508.9 95.9L503.6 98.9L507.2 94.7L508.3 90L511.9 85.9L517.8 83.5L523.7 82.3L532 83.5L539.1 81.7L542.6 80.5L549.7 81.7L550.9 78.2L546.8 75.8L543.8 75.8L539.7 72.8L533.2 74L524.9 74L517.8 76.4L510.7 75.2L506 72.3L501.8 71.1L503.6 68.1L507.2 64.6L500.1 66.3L496.5 69.9L489.4 71.7L483.5 72.8L476.4 74.6L470.5 72.3L463.4 74L455.1 73.2L459.8 69.9L465.8 65.2L474 61L484.7 58.7M92.5 46.2L94.9 49.2L94.9 53.3L98.4 58.1L97.2 62.8L94.9 66.9L90.7 68.7L88.4 65.7L91.3 61.6L91.9 57.5L87.2 56.9L81.3 56.3L75.4 54.5L69.2 53.6M66.5 35.6L70.6 37.4L73.8 39.1L78.6 40.9L81.9 43.9L84.8 47.6L86 51L84.8 53.1L80.1 53.3L75.4 52.7L71.8 51.6L68.3 49.8L65.9 48M77.7 34.4L79.5 36.2L83.1 39.1L87.2 37.4L87.2 40.9L88.4 42.1L86.6 42.7L87.8 45L89 46.2L91.9 46.8M92.5 53.3L93.1 55.1L96.1 58.1L96.7 55.7L93.7 53.3M88.4 51L90.2 52.1L91.9 52.7L91.3 51L89.6 49.8L88.4 51M94.3 61.6L94.9 65.2L95.5 66.3L95.5 62.8L94.3 61.6M159.1 241.1L159.9 243.8L164.7 249.1L165.3 253.3L168.2 259.2L171.8 263.9L174.1 266.9L174.7 271L177.1 275.7L184.8 279.3L191.3 284L194.8 288.7L195.4 293.5L192.5 296.4L183.6 297L185.4 300L190.7 304.1L197.2 307.7L203.1 311.2L207.9 314.8L215 319.5L217.9 324.2L218.5 330.1L220.9 336.1M186 249.1L186.6 253.3L186 259.2L188.3 265.1L190.7 271L196 276.9L200.8 282.8L205.5 286.4L209 292.3L212.6 298.2L216.7 302.9L220.3 307.7L224.4 312.4L228 318.3L231.5 324.2L235.1 330.1L237.4 336.1M186 249.1L190.1 250.9L197.2 253.3L201.4 255.6L206.7 258L206.7 262.7L209.6 267.5L212.6 273.4L215.5 279.3L219.7 284L224.4 287.6L230.3 293.5L233.9 295.8L236.8 300.6L243.3 305.3L248.7 310L252.2 316L252.8 321.9L258.7 326.6L265.8 332.5M395.4 317.7L393.4 308.9L394.2 300.6L397.1 296.4L400.1 292.9L404.2 289.9M395.4 319.5L393 324.2L391.2 330.1L388.9 336.1M120.3 223.1L124.5 223.7L131 223.7L126.2 224.3L120.3 223.1M141.6 230.2L145.2 232L143.4 231.4L141.6 230.2M141.6 235.5L144.6 237.9L142.8 236.7L141.6 235.5M130.4 232.2L132.1 232.9L131 232.6L130.4 232.2M546.2 75.8L543.8 71.1L542.1 66.3L539.1 62.2L532 58.7L524.3 51L519 49.2L511.9 48.6L504.8 46.8L500.1 48L497.7 50.4L493 52.1L489.4 53.9L484.7 58.1M489.4 56.3L498.3 59.8L496.5 59.2L489.4 56.3M569.6 117.2L577.5 113.7L577.9 108.3L581.1 101.8L582.9 97.1L578.7 90.6L584.1 94.1L587.6 96.5L587 98.9L595.9 99.5L600 95.9L597.7 90L589.4 82.9L580.5 81.1L568.7 79.4L556.8 79.4L551.5 81.1L546.2 75.8M562.8 82.3L574.6 84.7L579.3 83.5L572.2 81.1L562.8 80.5L562.8 82.3M611.3 118.4L603 119L594.7 119L595.9 122.5L584.1 121.4L576.4 125.5L568.7 129L561.6 128.4M563.9 125.5L569.9 124.9L568.7 121.4L565.7 120.8M609.5 114.3L604.2 114.8L600.6 113.7L605.3 109.5L611.3 107.2L623.1 106L632.6 106L639.7 103.6L642 104M702.4 71.7L708.3 68.7L716 64L720.1 56.9L727.2 52.7L734.3 47.4L739 43.9L747.3 42.7L749.7 40.3L758 34.4M703.5 71.7L711.8 67.5L718.9 62.8L724.8 56.9L733.1 52.7L741.4 49.8L749.7 47.4L758 45L766.2 43.9L775.7 43.3L781.6 45M782.8 56.9L772.2 58.1L763.9 56.9L758 58.1L766.2 59.2L769.8 61.6L776.9 65.2L776.9 69.9L779.2 75.8L787.5 79.4M752.4 95.7L756.8 92.4L763.3 90.6L771 88.8L776.9 86.5L782.8 84.1M780.4 103L775.7 98.3L769.8 96.5L766.8 98.3L763.9 101.8L762.1 107.2L767.4 111.3L772.2 111.9M669.2 145.6L675.1 145.8L681.1 145L689.3 142.6L694.7 140L687 141.5L678.7 141.5L672.8 142.1L669.8 143.2L669.2 145.6M707.1 135.5L711.2 136.7L709.5 136.1L707.1 135.5M713 137.3L717.1 137.9L715.4 137.3L713 137.3M610.1 310L613 311.8L617.2 311L621.9 310.6L623.1 309.8L618.4 311.2L613.6 312.4L610.1 310M622.5 307.1L626.6 307.1L630.8 310.6L633.1 313L632 316.5L631.4 319.5L630.8 317.1L632 314.8L629.6 311.2L625.5 308.3L622.5 307.1M636.7 323.6L639.7 326L643.2 328.4L644.4 329.6M619 328.4L621.9 329.2L626.6 329L630.2 329.6M419 46.2L419 42.1L422 41.5L423.2 39.1L425.5 37.4L429.1 40.3L425.5 43.9L423.2 46.2M588.2 304.1L590.6 307.1L590 310L587 309.4L585.2 306.5L588.2 304.1M213.2 132.6L218.5 136.7L220.3 140.3L217.3 143.8L211.4 142.6L206.7 139.7L204.3 137.3L207.3 133.8L213.2 132.6M676.9 93.5L676.9 99.5L676.6 105.4L676.3 110.1L677.7 105.4L678.5 99.5L678.1 93.5M123.3 161.6L124.5 165.1L125.6 164.5L125.1 161.6L123.3 161.6M474.6 266.9L477.6 270.4L482.9 270.4L482.9 268.6L478.8 266.9L474.6 266.9M632.6 165.1L631.4 169.3L633.7 172.8L641.4 176.4M628.4 172.8L634.9 177.5L642 181.1M633.7 181.1L640.8 185.2M629 182.3L634.9 185.8L642 188.8M644.4 158.6L640.2 162.2L639.7 165.7L640.8 172.8L642 176.4L642 182.3L642 188.2M645.6 158.6L643.2 163.3L642 168.1L645.6 172.8L646.8 177L646.2 182.3L645.9 187M645.6 194.1L639.7 198.8L637.3 200L644.4 201.2L645.6 204.8L639.7 207.1L639.7 209.5L637.3 211.8L637.3 215.4M637.3 199.4L645.6 200L647.9 201.2M87.8 65.7L89.6 62.8L92.5 59.8L93.7 59.2M93.7 53.3L92.5 55.7L94.9 58.1L96.7 58.7L96.1 56.3L95.5 54.5L93.7 53.3M95.5 55.1L97.2 56.9L96.7 55.7M94.9 61.6L95.5 63.4L96.1 64L96.1 65.7L95.2 64.6M94.3 59.2L94.1 61.6L93.1 63.4L92.5 65.2L94.3 66.3L91.9 66.9L90.2 65.2M89 49.8L87.8 51.6L90.2 52.7L91.3 51L89 49.8M90.2 50.4L91.9 52.1L93.1 51.6M96.1 66.9L94.3 68.7L91.3 68.1L90.7 69.3L89.6 67.5M86.6 42.7L89.6 42.1L91.3 42.7M84.8 40.9L87.2 37.9L88.4 39.1M200.8 276.3L204.3 280.5L207.3 283.4L205.5 281.6L201.9 278.1L200.8 276.3M213.8 279.9L217.3 282.2L216.7 285.8L213.2 284.6L213.8 279.9M181.2 290.5L182.4 294.1L180.7 293.5L181.2 290.5M187.2 198.2L190.7 199.4L193.7 198.8L194.8 200L190.1 199.4L187.2 198.2M398.3 224.9L401.9 226L403.1 224.3L400.1 225.5L398.3 224.9" fill="none" stroke="#000" stroke-width="1" stroke-linejoin="round"/>
</g>
<rect x="65.9" y="34.4" width="709.7" height="295.7" fill="none" stroke="#000" stroke-width="1.8"/>
<line x1="53" y1="34.7" x2="66" y2="34.7" stroke="#000" stroke-width="1.7"/>
<text x="45.5" y="38.9" font-size="12" text-anchor="end">50°N</text>
<line x1="53" y1="93.8" x2="66" y2="93.8" stroke="#000" stroke-width="1.7"/>
<text x="45.5" y="98" font-size="12" text-anchor="end">45°N</text>
<line x1="53" y1="153" x2="66" y2="153" stroke="#000" stroke-width="1.7"/>
<text x="45.5" y="157.2" font-size="12" text-anchor="end">40°N</text>
<line x1="53" y1="212.2" x2="66" y2="212.2" stroke="#000" stroke-width="1.7"/>
<text x="45.5" y="216.3" font-size="12" text-anchor="end">35°N</text>
<line x1="53" y1="271.3" x2="66" y2="271.3" stroke="#000" stroke-width="1.7"/>
<text x="45.5" y="275.5" font-size="12" text-anchor="end">30°N</text>
<line x1="53" y1="330.4" x2="66" y2="330.4" stroke="#000" stroke-width="1.7"/>
<text x="45.5" y="334.6" font-size="12" text-anchor="end">25°N</text>
<line x1="125.1" y1="330" x2="125.1" y2="342.6" stroke="#000" stroke-width="1.7"/>
<text x="125.1" y="359.6" font-size="12" text-anchor="middle">120°W</text>
<line x1="302.5" y1="330" x2="302.5" y2="342.6" stroke="#000" stroke-width="1.7"/>
<text x="302.5" y="359.6" font-size="12" text-anchor="middle">105°W</text>
<line x1="480" y1="330" x2="480" y2="342.6" stroke="#000" stroke-width="1.7"/>
<text x="480" y="359.6" font-size="12" text-anchor="middle">90°W</text>
<line x1="657.4" y1="330" x2="657.4" y2="342.6" stroke="#000" stroke-width="1.7"/>
<text x="657.4" y="359.6" font-size="12" text-anchor="middle">75°W</text>
<text x="775" y="21.5" font-size="18" text-anchor="end">mm/year</text>
<rect x="159.2" y="370.8" width="24.1" height="26.6" fill="#ffffff"/>
<rect x="183" y="370.8" width="24.1" height="26.6" fill="#d6e2ff"/>
<rect x="206.8" y="370.8" width="24.1" height="26.6" fill="#b5c9ff"/>
<rect x="230.6" y="370.8" width="24.1" height="26.6" fill="#b5c9ff"/>
<rect x="254.4" y="370.8" width="24.1" height="26.6" fill="#8eb2ff"/>
<rect x="278.2" y="370.8" width="24.1" height="26.6" fill="#7f96ff"/>
<rect x="301.9" y="370.8" width="24.1" height="26.6" fill="#6370f8"/>
<rect x="325.7" y="370.8" width="24.1" height="26.6" fill="#6370f8"/>
<rect x="349.5" y="370.8" width="24.1" height="26.6" fill="#0063ff"/>
<rect x="373.3" y="370.8" width="24.1" height="26.6" fill="#009696"/>
<rect x="397.1" y="370.8" width="24.1" height="26.6" fill="#00c633"/>
<rect x="420.9" y="370.8" width="24.1" height="26.6" fill="#00c633"/>
<rect x="444.7" y="370.8" width="24.1" height="26.6" fill="#63ff00"/>
<rect x="468.5" y="370.8" width="24.1" height="26.6" fill="#96ff00"/>
<rect x="492.3" y="370.8" width="24.1" height="26.6" fill="#c6ff33"/>
<rect x="516.1" y="370.8" width="24.1" height="26.6" fill="#c6ff33"/>
<rect x="539.9" y="370.8" width="24.1" height="26.6" fill="#ffff00"/>
<rect x="563.6" y="370.8" width="24.1" height="26.6" fill="#ffc600"/>
<rect x="587.4" y="370.8" width="24.1" height="26.6" fill="#ffa000"/>
<rect x="611.2" y="370.8" width="24.1" height="26.6" fill="#ffa000"/>
<rect x="635" y="370.8" width="24.1" height="26.6" fill="#ff7c00"/>
<rect x="658.8" y="370.8" width="24.1" height="26.6" fill="#ff1900"/>
<line x1="183" y1="370.8" x2="183" y2="397.4" stroke="#222" stroke-width="1"/>
<line x1="206.8" y1="370.8" x2="206.8" y2="397.4" stroke="#222" stroke-width="1"/>
<line x1="230.6" y1="370.8" x2="230.6" y2="397.4" stroke="#222" stroke-width="1"/>
<line x1="254.4" y1="370.8" x2="254.4" y2="397.4" stroke="#222" stroke-width="1"/>
<line x1="278.2" y1="370.8" x2="278.2" y2="397.4" stroke="#222" stroke-width="1"/>
<line x1="301.9" y1="370.8" x2="301.9" y2="397.4" stroke="#222" stroke-width="1"/>
<line x1="325.7" y1="370.8" x2="325.7" y2="397.4" stroke="#222" stroke-width="1"/>
<line x1="349.5" y1="370.8" x2="349.5" y2="397.4" stroke="#222" stroke-width="1"/>
<line x1="373.3" y1="370.8" x2="373.3" y2="397.4" stroke="#222" stroke-width="1"/>
<line x1="397.1" y1="370.8" x2="397.1" y2="397.4" stroke="#222" stroke-width="1"/>
<line x1="420.9" y1="370.8" x2="420.9" y2="397.4" stroke="#222" stroke-width="1"/>
<line x1="444.7" y1="370.8" x2="444.7" y2="397.4" stroke="#222" stroke-width="1"/>
<line x1="468.5" y1="370.8" x2="468.5" y2="397.4" stroke="#222" stroke-width="1"/>
<line x1="492.3" y1="370.8" x2="492.3" y2="397.4" stroke="#222" stroke-width="1"/>
<line x1="516.1" y1="370.8" x2="516.1" y2="397.4" stroke="#222" stroke-width="1"/>
<line x1="539.9" y1="370.8" x2="539.9" y2="397.4" stroke="#222" stroke-width="1"/>
<line x1="563.6" y1="370.8" x2="563.6" y2="397.4" stroke="#222" stroke-width="1"/>
<line x1="587.4" y1="370.8" x2="587.4" y2="397.4" stroke="#222" stroke-width="1"/>
<line x1="611.2" y1="370.8" x2="611.2" y2="397.4" stroke="#222" stroke-width="1"/>
<line x1="635" y1="370.8" x2="635" y2="397.4" stroke="#222" stroke-width="1"/>
<line x1="658.8" y1="370.8" x2="658.8" y2="397.4" stroke="#222" stroke-width="1"/>
<rect x="159.2" y="370.8" width="523.4" height="26.6" fill="none" stroke="#555" stroke-width="1.3"/>
<text x="183" y="413.8" font-size="12.2" text-anchor="middle">0</text>
<text x="230.6" y="413.8" font-size="12.2" text-anchor="middle">100</text>
<text x="278.2" y="413.8" font-size="12.2" text-anchor="middle">200</text>
<text x="325.7" y="413.8" font-size="12.2" text-anchor="middle">300</text>
<text x="373.3" y="413.8" font-size="12.2" text-anchor="middle">400</text>
<text x="420.9" y="413.8" font-size="12.2" text-anchor="middle">500</text>
<text x="468.5" y="413.8" font-size="12.2" text-anchor="middle">600</text>
<text x="516.1" y="413.8" font-size="12.2" text-anchor="middle">700</text>
<text x="563.6" y="413.8" font-size="12.2" text-anchor="middle">800</text>
<text x="611.2" y="413.8" font-size="12.2" text-anchor="middle">900</text>
<text x="658.8" y="413.8" font-size="12.2" text-anchor="middle">1000</text>
</svg></body></html>
